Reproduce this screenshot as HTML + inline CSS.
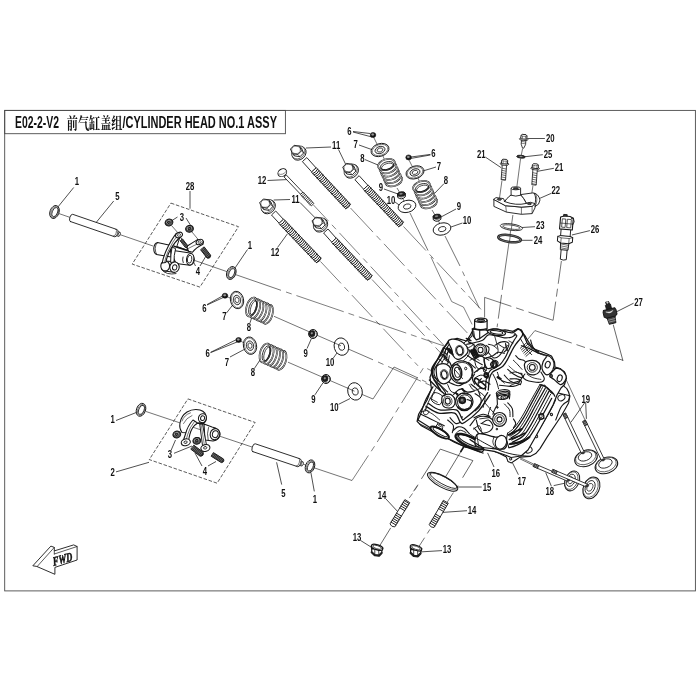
<!DOCTYPE html>
<html><head><meta charset="utf-8"><title>E02-2-V2 CYLINDER HEAD NO.1 ASSY</title>
<style>
html,body{margin:0;padding:0;background:#fff;}
body{width:700px;height:700px;overflow:hidden;font-family:"Liberation Sans","Noto Sans CJK SC",sans-serif;}
svg{display:block;will-change:transform;}
.lb{font-family:"Liberation Sans",sans-serif;font-weight:700;fill:#111;}
.ti{font-family:"Liberation Sans","Noto Sans CJK SC",sans-serif;fill:#111;}
.tc{font-family:"Liberation Serif","Noto Serif CJK SC",serif;fill:#111;}
</style></head><body>
<svg width="700" height="700" viewBox="0 0 700 700">
<rect width="700" height="700" fill="#fff"/>
<text class="ti" x="15" y="128.3" font-size="16.8" font-weight="700" textLength="44" lengthAdjust="spacingAndGlyphs">E02-2-V2</text>
<text class="tc" x="66.8" y="128.6" font-size="16" font-weight="700" textLength="55.6" lengthAdjust="spacingAndGlyphs">前气缸盖组</text>
<text class="ti" x="122.4" y="128.3" font-size="16.8" font-weight="700" textLength="154.6" lengthAdjust="spacingAndGlyphs">/CYLINDER HEAD NO.1 ASSY</text>
<rect x="4.7" y="110.4" width="690.7" height="480.5" fill="none" stroke="#4a4a4a" stroke-width="0.9"/>
<rect x="4.7" y="110.4" width="280.7" height="23.3" fill="none" stroke="#4a4a4a" stroke-width="0.9"/>
<line x1="73.7" y1="187.5" x2="57.5" y2="207.5" stroke="#161616" stroke-width="0.75"/>
<line x1="113.7" y1="201.0" x2="93.7" y2="225.5" stroke="#161616" stroke-width="0.75"/>
<line x1="190.0" y1="191.0" x2="190.0" y2="208.7" stroke="#161616" stroke-width="0.75"/>
<line x1="177.5" y1="217.0" x2="172.0" y2="220.5" stroke="#161616" stroke-width="0.75"/>
<line x1="186.0" y1="218.0" x2="191.0" y2="226.0" stroke="#161616" stroke-width="0.75"/>
<line x1="195.5" y1="266.0" x2="190.0" y2="255.0" stroke="#161616" stroke-width="0.75"/>
<line x1="200.0" y1="266.0" x2="206.0" y2="256.0" stroke="#161616" stroke-width="0.75"/>
<line x1="247.5" y1="249.5" x2="235.0" y2="268.0" stroke="#161616" stroke-width="0.75"/>
<line x1="331.0" y1="147.0" x2="306.0" y2="148.0" stroke="#161616" stroke-width="0.75"/>
<line x1="338.5" y1="149.5" x2="346.0" y2="165.0" stroke="#161616" stroke-width="0.75"/>
<line x1="267.5" y1="180.5" x2="288.7" y2="179.5" stroke="#161616" stroke-width="0.75"/>
<line x1="290.0" y1="199.5" x2="273.7" y2="200.0" stroke="#161616" stroke-width="0.75"/>
<line x1="300.0" y1="202.5" x2="316.0" y2="218.7" stroke="#161616" stroke-width="0.75"/>
<line x1="277.5" y1="247.5" x2="287.5" y2="233.7" stroke="#161616" stroke-width="0.75"/>
<line x1="353.0" y1="131.5" x2="370.0" y2="133.5" stroke="#161616" stroke-width="0.75"/>
<line x1="353.0" y1="132.0" x2="372.0" y2="137.0" stroke="#161616" stroke-width="0.75"/>
<line x1="359.0" y1="145.0" x2="373.0" y2="150.0" stroke="#161616" stroke-width="0.75"/>
<line x1="365.0" y1="159.6" x2="378.0" y2="165.0" stroke="#161616" stroke-width="0.75"/>
<line x1="384.0" y1="189.0" x2="398.0" y2="194.0" stroke="#161616" stroke-width="0.75"/>
<line x1="395.0" y1="202.0" x2="400.0" y2="205.6" stroke="#161616" stroke-width="0.75"/>
<line x1="430.4" y1="154.4" x2="411.0" y2="157.0" stroke="#161616" stroke-width="0.75"/>
<line x1="430.4" y1="155.0" x2="411.0" y2="158.4" stroke="#161616" stroke-width="0.75"/>
<line x1="436.0" y1="167.0" x2="423.0" y2="171.0" stroke="#161616" stroke-width="0.75"/>
<line x1="444.0" y1="183.6" x2="434.0" y2="194.0" stroke="#161616" stroke-width="0.75"/>
<line x1="456.0" y1="209.0" x2="441.0" y2="217.0" stroke="#161616" stroke-width="0.75"/>
<line x1="462.4" y1="223.0" x2="451.0" y2="227.0" stroke="#161616" stroke-width="0.75"/>
<line x1="544.9" y1="138.5" x2="528.0" y2="138.5" stroke="#161616" stroke-width="0.75"/>
<line x1="542.8" y1="154.7" x2="524.3" y2="156.8" stroke="#161616" stroke-width="0.75"/>
<line x1="485.7" y1="157.3" x2="501.0" y2="167.6" stroke="#161616" stroke-width="0.75"/>
<line x1="553.9" y1="168.3" x2="537.0" y2="171.4" stroke="#161616" stroke-width="0.75"/>
<line x1="551.3" y1="193.3" x2="539.7" y2="198.4" stroke="#161616" stroke-width="0.75"/>
<line x1="535.0" y1="226.7" x2="522.0" y2="227.5" stroke="#161616" stroke-width="0.75"/>
<line x1="532.5" y1="240.3" x2="521.7" y2="240.3" stroke="#161616" stroke-width="0.75"/>
<line x1="589.9" y1="230.6" x2="571.9" y2="235.0" stroke="#161616" stroke-width="0.75"/>
<line x1="633.6" y1="303.2" x2="616.5" y2="311.8" stroke="#161616" stroke-width="0.75"/>
<line x1="207.0" y1="304.6" x2="223.0" y2="295.7" stroke="#161616" stroke-width="0.75"/>
<line x1="207.0" y1="305.0" x2="224.3" y2="297.0" stroke="#161616" stroke-width="0.75"/>
<line x1="226.6" y1="312.9" x2="234.3" y2="302.9" stroke="#161616" stroke-width="0.75"/>
<line x1="250.0" y1="322.9" x2="252.3" y2="315.7" stroke="#161616" stroke-width="0.75"/>
<line x1="307.0" y1="348.6" x2="311.4" y2="338.6" stroke="#161616" stroke-width="0.75"/>
<line x1="332.9" y1="358.6" x2="337.0" y2="352.9" stroke="#161616" stroke-width="0.75"/>
<line x1="210.6" y1="352.3" x2="235.7" y2="340.0" stroke="#161616" stroke-width="0.75"/>
<line x1="210.6" y1="352.6" x2="237.0" y2="342.0" stroke="#161616" stroke-width="0.75"/>
<line x1="230.0" y1="357.0" x2="244.3" y2="349.4" stroke="#161616" stroke-width="0.75"/>
<line x1="254.3" y1="368.6" x2="260.0" y2="360.0" stroke="#161616" stroke-width="0.75"/>
<line x1="314.9" y1="394.9" x2="322.9" y2="382.9" stroke="#161616" stroke-width="0.75"/>
<line x1="338.6" y1="404.3" x2="350.0" y2="398.6" stroke="#161616" stroke-width="0.75"/>
<line x1="116.0" y1="420.5" x2="136.0" y2="412.6" stroke="#161616" stroke-width="0.75"/>
<line x1="116.0" y1="471.9" x2="149.0" y2="462.3" stroke="#161616" stroke-width="0.75"/>
<line x1="171.0" y1="450.5" x2="175.5" y2="440.0" stroke="#161616" stroke-width="0.75"/>
<line x1="174.0" y1="453.3" x2="192.0" y2="446.0" stroke="#161616" stroke-width="0.75"/>
<line x1="202.0" y1="466.0" x2="195.0" y2="453.0" stroke="#161616" stroke-width="0.75"/>
<line x1="208.0" y1="466.0" x2="216.0" y2="461.5" stroke="#161616" stroke-width="0.75"/>
<line x1="281.7" y1="484.6" x2="276.6" y2="462.3" stroke="#161616" stroke-width="0.75"/>
<line x1="314.3" y1="491.4" x2="310.9" y2="472.6" stroke="#161616" stroke-width="0.75"/>
<line x1="360.3" y1="540.3" x2="372.6" y2="548.0" stroke="#161616" stroke-width="0.75"/>
<line x1="442.0" y1="550.6" x2="420.7" y2="551.9" stroke="#161616" stroke-width="0.75"/>
<line x1="386.0" y1="499.0" x2="397.6" y2="511.5" stroke="#161616" stroke-width="0.75"/>
<line x1="467.0" y1="510.7" x2="441.3" y2="512.5" stroke="#161616" stroke-width="0.75"/>
<line x1="481.7" y1="487.0" x2="456.0" y2="487.0" stroke="#161616" stroke-width="0.75"/>
<line x1="494.0" y1="467.0" x2="487.6" y2="452.9" stroke="#161616" stroke-width="0.75"/>
<line x1="518.4" y1="474.7" x2="512.0" y2="461.9" stroke="#161616" stroke-width="0.75"/>
<line x1="551.4" y1="486.3" x2="545.7" y2="472.6" stroke="#161616" stroke-width="0.75"/>
<line x1="553.7" y1="485.6" x2="566.3" y2="482.9" stroke="#161616" stroke-width="0.75"/>
<line x1="584.6" y1="402.9" x2="570.9" y2="422.3" stroke="#161616" stroke-width="0.75"/>
<line x1="585.7" y1="402.9" x2="586.4" y2="418.9" stroke="#161616" stroke-width="0.75"/>
<line x1="350.5" y1="208.0" x2="373.0" y2="232.1" stroke="#161616" stroke-width="0.55"/>
<line x1="376.5" y1="235.8" x2="471.0" y2="336.9" stroke="#161616" stroke-width="0.55" stroke-dasharray="6 5 30 5"/>
<line x1="403.5" y1="226.5" x2="426.0" y2="250.6" stroke="#161616" stroke-width="0.55"/>
<line x1="429.5" y1="254.3" x2="481.0" y2="309.4" stroke="#161616" stroke-width="0.55" stroke-dasharray="6 5 30 5"/>
<line x1="320.5" y1="261.5" x2="341.0" y2="283.4" stroke="#161616" stroke-width="0.55"/>
<line x1="344.4" y1="287.1" x2="418.0" y2="365.8" stroke="#161616" stroke-width="0.55" stroke-dasharray="6 5 30 5"/>
<line x1="372.0" y1="279.5" x2="393.2" y2="302.1" stroke="#161616" stroke-width="0.55"/>
<line x1="396.6" y1="305.8" x2="441.0" y2="353.3" stroke="#161616" stroke-width="0.55" stroke-dasharray="6 5 30 5"/>
<line x1="313.5" y1="205.0" x2="328.5" y2="221.1" stroke="#161616" stroke-width="0.55"/>
<line x1="331.9" y1="224.8" x2="444.0" y2="345.5" stroke="#161616" stroke-width="0.55" stroke-dasharray="6 5 30 5"/>
<polygon points="302.4,161.6 311.7,171.9 316.1,167.9 306.8,157.6" fill="#fff" stroke="#161616" stroke-width="0.90" stroke-linejoin="round"/>
<polygon points="311.5,172.1 345.7,208.7 350.4,204.3 316.3,167.7" fill="#fff" stroke="#161616" stroke-width="0.90" stroke-linejoin="round"/>
<path d="M312.9,173.6 Q316.1,172.3 317.6,169.2 M314.2,175.0 Q317.5,173.8 319.0,170.6 M315.6,176.5 Q318.9,175.3 320.4,172.1 M317.0,178.0 Q320.2,176.7 321.7,173.6 M318.3,179.4 Q321.6,178.2 323.1,175.0 M319.7,180.9 Q322.9,179.7 324.4,176.5 M321.0,182.4 Q324.3,181.1 325.8,178.0 M322.4,183.9 Q325.7,182.6 327.2,179.4 M323.8,185.3 Q327.0,184.1 328.5,180.9 M325.1,186.8 Q328.4,185.5 329.9,182.4 M326.5,188.3 Q329.8,187.0 331.3,183.8 M327.8,189.7 Q331.1,188.5 332.6,185.3 M329.2,191.2 Q332.5,189.9 334.0,186.8 M330.6,192.7 Q333.8,191.4 335.3,188.2 M331.9,194.1 Q335.2,192.9 336.7,189.7 M333.3,195.6 Q336.6,194.3 338.1,191.2 M334.6,197.1 Q337.9,195.8 339.4,192.6 M336.0,198.5 Q339.3,197.3 340.8,194.1 M337.4,200.0 Q340.6,198.7 342.1,195.6 M338.7,201.5 Q342.0,200.2 343.5,197.0 M340.1,202.9 Q343.4,201.7 344.9,198.5 M341.5,204.4 Q344.7,203.1 346.2,200.0 M342.8,205.9 Q346.1,204.6 347.6,201.4 M344.2,207.3 Q347.4,206.1 348.9,202.9 " fill="none" stroke="#161616" stroke-width="1.00" stroke-linejoin="round" stroke-linecap="round"/>
<path d="M345.7,208.7 Q349.4,207.9 350.4,204.3" fill="none" stroke="#161616" stroke-width="0.90" stroke-linejoin="round" stroke-linecap="round"/>
<ellipse cx="299.1" cy="153.3" rx="7.6" ry="6.2" fill="#fff" stroke="#161616" stroke-width="0.90" transform="rotate(137.16848976464593 299.1 153.3)"/>
<ellipse cx="298.3" cy="152.4" rx="7.2" ry="5.9" fill="#fff" stroke="#161616" stroke-width="0.60" transform="rotate(137.16848976464593 298.3 152.4)"/>
<polygon points="303.6,153.0 300.0,156.7 294.4,155.9 292.5,151.2 296.1,147.5 301.6,148.3" fill="#fff" stroke="#161616" stroke-width="0.90" stroke-linejoin="round"/>
<line x1="301.5" y1="150.8" x2="303.6" y2="153.0" stroke="#161616" stroke-width="0.6"/>
<line x1="297.9" y1="154.5" x2="300.0" y2="156.7" stroke="#161616" stroke-width="0.6"/>
<line x1="292.4" y1="153.7" x2="294.4" y2="155.9" stroke="#161616" stroke-width="0.6"/>
<line x1="290.5" y1="149.0" x2="292.5" y2="151.2" stroke="#161616" stroke-width="0.6"/>
<line x1="294.1" y1="145.3" x2="296.1" y2="147.5" stroke="#161616" stroke-width="0.6"/>
<line x1="299.6" y1="146.1" x2="301.6" y2="148.3" stroke="#161616" stroke-width="0.6"/>
<polygon points="301.5,150.8 297.9,154.5 292.4,153.7 290.5,149.0 294.1,145.3 299.6,146.1" fill="#fff" stroke="#161616" stroke-width="0.90" stroke-linejoin="round"/>
<ellipse cx="296.0" cy="149.9" rx="4.3" ry="3.7" fill="none" stroke="#161616" stroke-width="0.50"/>
<polygon points="354.9,179.7 363.7,189.3 367.9,185.3 359.1,175.7" fill="#fff" stroke="#161616" stroke-width="0.90" stroke-linejoin="round"/>
<polygon points="363.4,189.5 398.7,226.7 403.4,222.2 368.2,185.1" fill="#fff" stroke="#161616" stroke-width="0.90" stroke-linejoin="round"/>
<path d="M364.8,191.0 Q368.0,189.7 369.5,186.5 M366.1,192.4 Q369.4,191.1 370.9,187.9 M367.5,193.8 Q370.7,192.5 372.2,189.4 M368.8,195.3 Q372.1,194.0 373.6,190.8 M370.2,196.7 Q373.4,195.4 374.9,192.2 M371.5,198.1 Q374.8,196.9 376.3,193.7 M372.9,199.6 Q376.1,198.3 377.6,195.1 M374.2,201.0 Q377.5,199.7 379.0,196.5 M375.6,202.4 Q378.8,201.2 380.3,198.0 M376.9,203.9 Q380.2,202.6 381.7,199.4 M378.3,205.3 Q381.6,204.0 383.0,200.8 M379.6,206.7 Q382.9,205.5 384.4,202.3 M381.0,208.2 Q384.3,206.9 385.7,203.7 M382.3,209.6 Q385.6,208.3 387.1,205.2 M383.7,211.0 Q387.0,209.8 388.4,206.6 M385.0,212.5 Q388.3,211.2 389.8,208.0 M386.4,213.9 Q389.7,212.6 391.1,209.5 M387.7,215.3 Q391.0,214.1 392.5,210.9 M389.1,216.8 Q392.4,215.5 393.8,212.3 M390.5,218.2 Q393.7,216.9 395.2,213.8 M391.8,219.6 Q395.1,218.4 396.5,215.2 M393.2,221.1 Q396.4,219.8 397.9,216.6 M394.5,222.5 Q397.8,221.2 399.2,218.1 M395.9,224.0 Q399.1,222.7 400.6,219.5 M397.2,225.4 Q400.5,224.1 401.9,220.9 " fill="none" stroke="#161616" stroke-width="1.00" stroke-linejoin="round" stroke-linecap="round"/>
<path d="M398.7,226.7 Q402.4,225.9 403.4,222.2" fill="none" stroke="#161616" stroke-width="0.90" stroke-linejoin="round" stroke-linecap="round"/>
<ellipse cx="351.5" cy="171.3" rx="7.6" ry="6.2" fill="#fff" stroke="#161616" stroke-width="0.90" transform="rotate(136.71545859630356 351.5 171.3)"/>
<ellipse cx="350.6" cy="170.5" rx="7.2" ry="5.9" fill="#fff" stroke="#161616" stroke-width="0.60" transform="rotate(136.71545859630356 350.6 170.5)"/>
<polygon points="355.9,171.0 352.3,174.8 346.8,174.0 344.8,169.3 348.4,165.6 354.0,166.4" fill="#fff" stroke="#161616" stroke-width="0.90" stroke-linejoin="round"/>
<line x1="353.8" y1="168.9" x2="355.9" y2="171.0" stroke="#161616" stroke-width="0.6"/>
<line x1="350.2" y1="172.6" x2="352.3" y2="174.8" stroke="#161616" stroke-width="0.6"/>
<line x1="344.7" y1="171.8" x2="346.8" y2="174.0" stroke="#161616" stroke-width="0.6"/>
<line x1="342.8" y1="167.1" x2="344.8" y2="169.3" stroke="#161616" stroke-width="0.6"/>
<line x1="346.4" y1="163.4" x2="348.4" y2="165.6" stroke="#161616" stroke-width="0.6"/>
<line x1="351.9" y1="164.2" x2="354.0" y2="166.4" stroke="#161616" stroke-width="0.6"/>
<polygon points="353.8,168.9 350.2,172.6 344.7,171.8 342.8,167.1 346.4,163.4 351.9,164.2" fill="#fff" stroke="#161616" stroke-width="0.90" stroke-linejoin="round"/>
<ellipse cx="348.3" cy="168.0" rx="4.3" ry="3.7" fill="none" stroke="#161616" stroke-width="0.50"/>
<polygon points="271.5,215.0 279.2,223.3 283.4,219.3 275.7,211.0" fill="#fff" stroke="#161616" stroke-width="0.90" stroke-linejoin="round"/>
<polygon points="278.9,223.5 316.4,262.7 321.1,258.2 283.7,219.1" fill="#fff" stroke="#161616" stroke-width="0.90" stroke-linejoin="round"/>
<path d="M280.3,225.0 Q283.6,223.7 285.0,220.5 M281.7,226.4 Q285.0,225.2 286.4,222.0 M283.1,227.9 Q286.3,226.6 287.8,223.4 M284.5,229.4 Q287.7,228.1 289.2,224.9 M285.9,230.8 Q289.1,229.5 290.6,226.3 M287.2,232.3 Q290.5,231.0 292.0,227.8 M288.6,233.7 Q291.9,232.4 293.3,229.2 M290.0,235.2 Q293.3,233.9 294.7,230.7 M291.4,236.6 Q294.6,235.3 296.1,232.1 M292.8,238.1 Q296.0,236.8 297.5,233.6 M294.2,239.5 Q297.4,238.2 298.9,235.1 M295.5,241.0 Q298.8,239.7 300.3,236.5 M296.9,242.4 Q300.2,241.1 301.6,238.0 M298.3,243.9 Q301.6,242.6 303.0,239.4 M299.7,245.4 Q302.9,244.1 304.4,240.9 M301.1,246.8 Q304.3,245.5 305.8,242.3 M302.5,248.3 Q305.7,247.0 307.2,243.8 M303.8,249.7 Q307.1,248.4 308.6,245.2 M305.2,251.2 Q308.5,249.9 309.9,246.7 M306.6,252.6 Q309.9,251.3 311.3,248.1 M308.0,254.1 Q311.2,252.8 312.7,249.6 M309.4,255.5 Q312.6,254.2 314.1,251.1 M310.8,257.0 Q314.0,255.7 315.5,252.5 M312.1,258.4 Q315.4,257.1 316.9,254.0 M313.5,259.9 Q316.8,258.6 318.2,255.4 M314.9,261.4 Q318.2,260.1 319.6,256.9 " fill="none" stroke="#161616" stroke-width="1.00" stroke-linejoin="round" stroke-linecap="round"/>
<path d="M316.4,262.7 Q320.1,261.9 321.1,258.2" fill="none" stroke="#161616" stroke-width="0.90" stroke-linejoin="round" stroke-linecap="round"/>
<ellipse cx="268.4" cy="206.9" rx="7.6" ry="6.2" fill="#fff" stroke="#161616" stroke-width="0.90" transform="rotate(136.43487819292193 268.4 206.9)"/>
<ellipse cx="267.5" cy="206.1" rx="7.2" ry="5.9" fill="#fff" stroke="#161616" stroke-width="0.60" transform="rotate(136.43487819292193 267.5 206.1)"/>
<polygon points="272.8,206.6 269.2,210.4 263.7,209.5 261.8,204.9 265.4,201.1 270.9,202.0" fill="#fff" stroke="#161616" stroke-width="0.90" stroke-linejoin="round"/>
<line x1="270.7" y1="204.5" x2="272.8" y2="206.6" stroke="#161616" stroke-width="0.6"/>
<line x1="267.1" y1="208.2" x2="269.2" y2="210.4" stroke="#161616" stroke-width="0.6"/>
<line x1="261.6" y1="207.4" x2="263.7" y2="209.5" stroke="#161616" stroke-width="0.6"/>
<line x1="259.7" y1="202.7" x2="261.8" y2="204.9" stroke="#161616" stroke-width="0.6"/>
<line x1="263.3" y1="199.0" x2="265.4" y2="201.1" stroke="#161616" stroke-width="0.6"/>
<line x1="268.8" y1="199.8" x2="270.9" y2="202.0" stroke="#161616" stroke-width="0.6"/>
<polygon points="270.7,204.5 267.1,208.2 261.6,207.4 259.7,202.7 263.3,199.0 268.8,199.8" fill="#fff" stroke="#161616" stroke-width="0.90" stroke-linejoin="round"/>
<ellipse cx="265.2" cy="203.6" rx="4.3" ry="3.7" fill="none" stroke="#161616" stroke-width="0.50"/>
<polygon points="323.6,233.0 331.8,242.2 336.2,238.2 328.0,229.0" fill="#fff" stroke="#161616" stroke-width="0.90" stroke-linejoin="round"/>
<polygon points="331.6,242.4 367.4,280.1 372.1,275.6 336.4,238.0" fill="#fff" stroke="#161616" stroke-width="0.90" stroke-linejoin="round"/>
<path d="M333.0,243.9 Q336.3,242.6 337.7,239.4 M334.4,245.3 Q337.6,244.1 339.1,240.9 M335.7,246.8 Q339.0,245.5 340.5,242.3 M337.1,248.3 Q340.4,247.0 341.8,243.8 M338.5,249.7 Q341.7,248.4 343.2,245.3 M339.8,251.2 Q343.1,249.9 344.6,246.7 M341.2,252.6 Q344.5,251.3 345.9,248.2 M342.6,254.1 Q345.8,252.8 347.3,249.6 M343.9,255.5 Q347.2,254.3 348.7,251.1 M345.3,257.0 Q348.6,255.7 350.0,252.5 M346.7,258.5 Q349.9,257.2 351.4,254.0 M348.0,259.9 Q351.3,258.6 352.8,255.5 M349.4,261.4 Q352.7,260.1 354.1,256.9 M350.8,262.8 Q354.0,261.5 355.5,258.4 M352.1,264.3 Q355.4,263.0 356.9,259.8 M353.5,265.7 Q356.7,264.5 358.2,261.3 M354.9,267.2 Q358.1,265.9 359.6,262.7 M356.2,268.7 Q359.5,267.4 361.0,264.2 M357.6,270.1 Q360.8,268.8 362.3,265.7 M359.0,271.6 Q362.2,270.3 363.7,267.1 M360.3,273.0 Q363.6,271.7 365.1,268.6 M361.7,274.5 Q364.9,273.2 366.4,270.0 M363.1,275.9 Q366.3,274.7 367.8,271.5 M364.4,277.4 Q367.7,276.1 369.2,272.9 M365.8,278.8 Q369.0,277.6 370.5,274.4 " fill="none" stroke="#161616" stroke-width="1.00" stroke-linejoin="round" stroke-linecap="round"/>
<path d="M367.4,280.1 Q371.1,279.3 372.1,275.6" fill="none" stroke="#161616" stroke-width="0.90" stroke-linejoin="round" stroke-linecap="round"/>
<ellipse cx="320.7" cy="225.2" rx="7.6" ry="6.2" fill="#fff" stroke="#161616" stroke-width="0.90" transform="rotate(136.84151138020047 320.7 225.2)"/>
<ellipse cx="319.9" cy="224.3" rx="7.2" ry="5.9" fill="#fff" stroke="#161616" stroke-width="0.60" transform="rotate(136.84151138020047 319.9 224.3)"/>
<polygon points="325.2,224.8 321.6,228.6 316.1,227.8 314.1,223.1 317.7,219.4 323.3,220.2" fill="#fff" stroke="#161616" stroke-width="0.90" stroke-linejoin="round"/>
<line x1="323.1" y1="222.7" x2="325.2" y2="224.8" stroke="#161616" stroke-width="0.6"/>
<line x1="319.5" y1="226.4" x2="321.6" y2="228.6" stroke="#161616" stroke-width="0.6"/>
<line x1="314.0" y1="225.6" x2="316.1" y2="227.8" stroke="#161616" stroke-width="0.6"/>
<line x1="312.1" y1="220.9" x2="314.1" y2="223.1" stroke="#161616" stroke-width="0.6"/>
<line x1="315.7" y1="217.2" x2="317.7" y2="219.4" stroke="#161616" stroke-width="0.6"/>
<line x1="321.2" y1="218.0" x2="323.3" y2="220.2" stroke="#161616" stroke-width="0.6"/>
<polygon points="323.1,222.7 319.5,226.4 314.0,225.6 312.1,220.9 315.7,217.2 321.2,218.0" fill="#fff" stroke="#161616" stroke-width="0.90" stroke-linejoin="round"/>
<ellipse cx="317.6" cy="221.8" rx="4.3" ry="3.7" fill="none" stroke="#161616" stroke-width="0.50"/>
<polygon points="284.1,177.0 300.6,194.3 302.8,192.3 286.3,175.0" fill="#fff" stroke="#161616" stroke-width="0.85" stroke-linejoin="round"/>
<polygon points="300.4,194.5 311.3,205.9 313.9,203.5 303.0,192.1" fill="#fff" stroke="#161616" stroke-width="0.85" stroke-linejoin="round"/>
<path d="M301.6,195.8 L304.2,193.4 M302.8,197.1 L305.4,194.6 M304.0,198.4 L306.6,195.9 M305.2,199.7 L307.8,197.2 M306.4,200.9 L309.0,198.5 M307.6,202.2 L310.2,199.8 M308.8,203.5 L311.4,201.0 M310.0,204.8 L312.6,202.3 " fill="none" stroke="#161616" stroke-width="0.75" stroke-linejoin="round" stroke-linecap="round"/>
<ellipse cx="282.3" cy="172.7" rx="4.6" ry="3.7" fill="#fff" stroke="#161616" stroke-width="0.90" transform="rotate(-30 282.3 172.7)"/>
<path d="M278.8,173.9 Q282.3,175.9 285.9,171.7" fill="none" stroke="#161616" stroke-width="0.50" stroke-linejoin="round" stroke-linecap="round"/>
<line x1="59.0" y1="213.6" x2="153.0" y2="246.0" stroke="#161616" stroke-width="0.6"/>
<line x1="194.5" y1="260.4" x2="281.0" y2="290.3" stroke="#161616" stroke-width="0.6"/>
<line x1="286.0" y1="292.0" x2="444.0" y2="346.0" stroke="#161616" stroke-width="0.55" stroke-dasharray="6 5 50 5"/>
<ellipse cx="54.5" cy="212.0" rx="4.5" ry="6.7" fill="#fff" stroke="#161616" stroke-width="0.90" transform="rotate(20 54.5 212.0)"/>
<ellipse cx="54.7" cy="212.1" rx="3.5" ry="5.7" fill="none" stroke="#161616" stroke-width="0.50" transform="rotate(20 54.7 212.1)"/>
<ellipse cx="54.9" cy="212.1" rx="2.6" ry="4.8" fill="#fff" stroke="#161616" stroke-width="0.80" transform="rotate(20 54.9 212.1)"/>
<ellipse cx="231.3" cy="273.0" rx="4.5" ry="6.7" fill="#fff" stroke="#161616" stroke-width="0.90" transform="rotate(20 231.3 273.0)"/>
<ellipse cx="231.5" cy="273.1" rx="3.5" ry="5.7" fill="none" stroke="#161616" stroke-width="0.50" transform="rotate(20 231.5 273.1)"/>
<ellipse cx="231.7" cy="273.1" rx="2.6" ry="4.8" fill="#fff" stroke="#161616" stroke-width="0.80" transform="rotate(20 231.7 273.1)"/>
<line x1="146.0" y1="411.5" x2="252.0" y2="447.0" stroke="#161616" stroke-width="0.6"/>
<line x1="303.0" y1="464.1" x2="352.0" y2="480.5" stroke="#161616" stroke-width="0.6"/>
<polyline points="352.0,480.5 376.0,444.0 424.0,367.0 434.0,372.0" fill="none" stroke="#161616" stroke-width="0.55" stroke-dasharray="30 5 6 5" stroke-linejoin="round"/>
<ellipse cx="141.0" cy="409.8" rx="4.5" ry="6.7" fill="#fff" stroke="#161616" stroke-width="0.90" transform="rotate(20 141.0 409.8)"/>
<ellipse cx="141.2" cy="409.9" rx="3.5" ry="5.7" fill="none" stroke="#161616" stroke-width="0.50" transform="rotate(20 141.2 409.9)"/>
<ellipse cx="141.4" cy="409.9" rx="2.6" ry="4.8" fill="#fff" stroke="#161616" stroke-width="0.80" transform="rotate(20 141.4 409.9)"/>
<ellipse cx="310.0" cy="466.4" rx="4.5" ry="6.7" fill="#fff" stroke="#161616" stroke-width="0.90" transform="rotate(20 310.0 466.4)"/>
<ellipse cx="310.2" cy="466.5" rx="3.5" ry="5.7" fill="none" stroke="#161616" stroke-width="0.50" transform="rotate(20 310.2 466.5)"/>
<ellipse cx="310.4" cy="466.5" rx="2.6" ry="4.8" fill="#fff" stroke="#161616" stroke-width="0.80" transform="rotate(20 310.4 466.5)"/>
<polygon points="115.3,235.3 118.5,236.4 119.9,232.2 116.7,231.1" fill="#fff" stroke="#161616" stroke-width="0.70" stroke-linejoin="round"/>
<ellipse cx="119.2" cy="234.3" rx="1.0" ry="2.2" fill="#fff" stroke="#161616" stroke-width="0.70" transform="rotate(18.974006111534806 119.2 234.3)"/>
<path d="M70.3,221.5 L114.8,236.8 A1.8,3.8 19.0 0 0 117.2,229.6 L72.7,214.3 A1.8,3.8 19.0 0 0 70.3,221.5Z" fill="#fff" stroke="#161616" stroke-width="0.90" stroke-linejoin="round" stroke-linecap="round"/>
<path d="M113.3,236.3 A1.8,3.8 19.0 0 0 115.7,229.1" fill="none" stroke="#161616" stroke-width="0.60" stroke-linejoin="round" stroke-linecap="round"/>
<polygon points="298.3,464.9 301.5,466.0 302.9,461.8 299.7,460.7" fill="#fff" stroke="#161616" stroke-width="0.70" stroke-linejoin="round"/>
<ellipse cx="302.2" cy="463.9" rx="1.0" ry="2.2" fill="#fff" stroke="#161616" stroke-width="0.70" transform="rotate(18.54946388598796 302.2 463.9)"/>
<path d="M252.7,451.6 L297.7,466.7 A1.8,4.1 18.5 0 0 300.3,458.9 L255.3,443.8 A1.8,4.1 18.5 0 0 252.7,451.6Z" fill="#fff" stroke="#161616" stroke-width="0.90" stroke-linejoin="round" stroke-linecap="round"/>
<path d="M296.2,466.2 A1.8,4.1 18.5 0 0 298.8,458.4" fill="none" stroke="#161616" stroke-width="0.60" stroke-linejoin="round" stroke-linecap="round"/>
<line x1="373.5" y1="137.0" x2="377.0" y2="144.0" stroke="#161616" stroke-width="0.6"/>
<line x1="383.0" y1="156.0" x2="385.0" y2="161.0" stroke="#161616" stroke-width="0.6"/>
<line x1="397.0" y1="188.0" x2="400.0" y2="193.0" stroke="#161616" stroke-width="0.6"/>
<line x1="402.5" y1="198.0" x2="405.0" y2="203.0" stroke="#161616" stroke-width="0.6"/>
<ellipse cx="373.0" cy="135.0" rx="2.8" ry="2.5" fill="#111" stroke="#161616" stroke-width="0.60"/>
<ellipse cx="372.7" cy="134.5" rx="1.3" ry="1.0" fill="#999" stroke="#999" stroke-width="0.30"/>
<ellipse cx="380.0" cy="150.0" rx="9.2" ry="6.3" fill="#fff" stroke="#161616" stroke-width="0.90" transform="rotate(-18 380.0 150.0)"/>
<ellipse cx="380.0" cy="150.0" rx="8.0" ry="5.3" fill="none" stroke="#161616" stroke-width="0.50" transform="rotate(-18 380.0 150.0)"/>
<ellipse cx="380.0" cy="150.0" rx="5.1" ry="3.5" fill="#e8e8e8" stroke="#161616" stroke-width="0.80" transform="rotate(-18 380.0 150.0)"/>
<ellipse cx="380.0" cy="150.0" rx="2.8" ry="1.9" fill="#fff" stroke="#161616" stroke-width="0.70" transform="rotate(-18 380.0 150.0)"/>
<ellipse cx="393.8" cy="180.8" rx="8.7" ry="5.2" fill="#fff" stroke="#161616" stroke-width="1.70" transform="rotate(-18 393.8 180.8)"/>
<ellipse cx="393.8" cy="180.8" rx="8.7" ry="5.2" fill="none" stroke="#fff" stroke-width="0.60" transform="rotate(-18 393.8 180.8)"/>
<ellipse cx="392.3" cy="177.5" rx="8.7" ry="5.2" fill="#fff" stroke="#161616" stroke-width="1.70" transform="rotate(-18 392.3 177.5)"/>
<ellipse cx="392.3" cy="177.5" rx="8.7" ry="5.2" fill="none" stroke="#fff" stroke-width="0.60" transform="rotate(-18 392.3 177.5)"/>
<ellipse cx="390.9" cy="174.3" rx="8.7" ry="5.2" fill="#fff" stroke="#161616" stroke-width="1.70" transform="rotate(-18 390.9 174.3)"/>
<ellipse cx="390.9" cy="174.3" rx="8.7" ry="5.2" fill="none" stroke="#fff" stroke-width="0.60" transform="rotate(-18 390.9 174.3)"/>
<ellipse cx="389.4" cy="171.0" rx="8.7" ry="5.2" fill="#fff" stroke="#161616" stroke-width="1.70" transform="rotate(-18 389.4 171.0)"/>
<ellipse cx="389.4" cy="171.0" rx="8.7" ry="5.2" fill="none" stroke="#fff" stroke-width="0.60" transform="rotate(-18 389.4 171.0)"/>
<ellipse cx="388.0" cy="167.8" rx="8.7" ry="5.2" fill="#fff" stroke="#161616" stroke-width="1.70" transform="rotate(-18 388.0 167.8)"/>
<ellipse cx="388.0" cy="167.8" rx="8.7" ry="5.2" fill="none" stroke="#fff" stroke-width="0.60" transform="rotate(-18 388.0 167.8)"/>
<ellipse cx="386.5" cy="164.5" rx="8.7" ry="5.2" fill="#fff" stroke="#161616" stroke-width="1.70" transform="rotate(-18 386.5 164.5)"/>
<ellipse cx="386.5" cy="164.5" rx="8.7" ry="5.2" fill="none" stroke="#fff" stroke-width="0.60" transform="rotate(-18 386.5 164.5)"/>
<ellipse cx="387.0" cy="165.6" rx="6.8" ry="3.7" fill="none" stroke="#161616" stroke-width="0.80" transform="rotate(-18 387.0 165.6)"/>
<ellipse cx="387.5" cy="166.7" rx="6.1" ry="3.2" fill="none" stroke="#161616" stroke-width="0.70" transform="rotate(-18 387.5 166.7)"/>
<path d="M397.5,194.2 L397.7,197.4 Q401.4,200.6 405.3,196.8 L405.3,193.8Z" fill="#fff" stroke="#161616" stroke-width="1.00" stroke-linejoin="round" stroke-linecap="round"/>
<path d="M397.6,195.8 Q401.4,199.0 405.3,195.3" fill="none" stroke="#161616" stroke-width="0.60" stroke-linejoin="round" stroke-linecap="round"/>
<ellipse cx="401.4" cy="194.0" rx="3.9" ry="2.2" fill="#222" stroke="#161616" stroke-width="0.90" transform="rotate(-8 401.4 194.0)"/>
<ellipse cx="401.0" cy="193.8" rx="1.6" ry="0.7" fill="#888" stroke="#888" stroke-width="0.30" transform="rotate(-8 401.0 193.8)"/>
<ellipse cx="407.0" cy="206.4" rx="9.0" ry="6.0" fill="#fff" stroke="#161616" stroke-width="0.90" transform="rotate(-14 407.0 206.4)"/>
<ellipse cx="407.2" cy="206.5" rx="3.8" ry="2.5" fill="#fff" stroke="#161616" stroke-width="0.80" transform="rotate(-14 407.2 206.5)"/>
<polyline points="410.0,213.0 428.0,250.5" fill="none" stroke="#161616" stroke-width="0.60" stroke-linejoin="round"/>
<polyline points="431.0,257.0 435.2,266.3 451.7,301.6 463.5,307.1 472.1,324.4" fill="none" stroke="#161616" stroke-width="0.55" stroke-linejoin="round"/>
<line x1="409.0" y1="160.0" x2="412.0" y2="166.0" stroke="#161616" stroke-width="0.6"/>
<line x1="418.0" y1="178.0" x2="420.0" y2="183.0" stroke="#161616" stroke-width="0.6"/>
<line x1="432.0" y1="210.0" x2="435.0" y2="215.0" stroke="#161616" stroke-width="0.6"/>
<line x1="438.5" y1="221.0" x2="440.5" y2="225.0" stroke="#161616" stroke-width="0.6"/>
<ellipse cx="408.6" cy="157.4" rx="2.8" ry="2.5" fill="#111" stroke="#161616" stroke-width="0.60"/>
<ellipse cx="408.3" cy="156.9" rx="1.3" ry="1.0" fill="#999" stroke="#999" stroke-width="0.30"/>
<ellipse cx="415.0" cy="172.4" rx="9.2" ry="6.3" fill="#fff" stroke="#161616" stroke-width="0.90" transform="rotate(-18 415.0 172.4)"/>
<ellipse cx="415.0" cy="172.4" rx="8.0" ry="5.3" fill="none" stroke="#161616" stroke-width="0.50" transform="rotate(-18 415.0 172.4)"/>
<ellipse cx="415.0" cy="172.4" rx="5.1" ry="3.5" fill="#e8e8e8" stroke="#161616" stroke-width="0.80" transform="rotate(-18 415.0 172.4)"/>
<ellipse cx="415.0" cy="172.4" rx="2.8" ry="1.9" fill="#fff" stroke="#161616" stroke-width="0.70" transform="rotate(-18 415.0 172.4)"/>
<ellipse cx="428.8" cy="202.8" rx="8.7" ry="5.2" fill="#fff" stroke="#161616" stroke-width="1.70" transform="rotate(-18 428.8 202.8)"/>
<ellipse cx="428.8" cy="202.8" rx="8.7" ry="5.2" fill="none" stroke="#fff" stroke-width="0.60" transform="rotate(-18 428.8 202.8)"/>
<ellipse cx="427.3" cy="199.5" rx="8.7" ry="5.2" fill="#fff" stroke="#161616" stroke-width="1.70" transform="rotate(-18 427.3 199.5)"/>
<ellipse cx="427.3" cy="199.5" rx="8.7" ry="5.2" fill="none" stroke="#fff" stroke-width="0.60" transform="rotate(-18 427.3 199.5)"/>
<ellipse cx="425.9" cy="196.3" rx="8.7" ry="5.2" fill="#fff" stroke="#161616" stroke-width="1.70" transform="rotate(-18 425.9 196.3)"/>
<ellipse cx="425.9" cy="196.3" rx="8.7" ry="5.2" fill="none" stroke="#fff" stroke-width="0.60" transform="rotate(-18 425.9 196.3)"/>
<ellipse cx="424.4" cy="193.0" rx="8.7" ry="5.2" fill="#fff" stroke="#161616" stroke-width="1.70" transform="rotate(-18 424.4 193.0)"/>
<ellipse cx="424.4" cy="193.0" rx="8.7" ry="5.2" fill="none" stroke="#fff" stroke-width="0.60" transform="rotate(-18 424.4 193.0)"/>
<ellipse cx="423.0" cy="189.8" rx="8.7" ry="5.2" fill="#fff" stroke="#161616" stroke-width="1.70" transform="rotate(-18 423.0 189.8)"/>
<ellipse cx="423.0" cy="189.8" rx="8.7" ry="5.2" fill="none" stroke="#fff" stroke-width="0.60" transform="rotate(-18 423.0 189.8)"/>
<ellipse cx="421.5" cy="186.5" rx="8.7" ry="5.2" fill="#fff" stroke="#161616" stroke-width="1.70" transform="rotate(-18 421.5 186.5)"/>
<ellipse cx="421.5" cy="186.5" rx="8.7" ry="5.2" fill="none" stroke="#fff" stroke-width="0.60" transform="rotate(-18 421.5 186.5)"/>
<ellipse cx="422.0" cy="187.6" rx="6.8" ry="3.7" fill="none" stroke="#161616" stroke-width="0.80" transform="rotate(-18 422.0 187.6)"/>
<ellipse cx="422.5" cy="188.7" rx="6.1" ry="3.2" fill="none" stroke="#161616" stroke-width="0.70" transform="rotate(-18 422.5 188.7)"/>
<path d="M433.1,216.6 L433.3,219.8 Q437.0,223.0 440.9,219.2 L440.9,216.2Z" fill="#fff" stroke="#161616" stroke-width="1.00" stroke-linejoin="round" stroke-linecap="round"/>
<path d="M433.2,218.2 Q437.0,221.4 440.9,217.7" fill="none" stroke="#161616" stroke-width="0.60" stroke-linejoin="round" stroke-linecap="round"/>
<ellipse cx="437.0" cy="216.4" rx="3.9" ry="2.2" fill="#222" stroke="#161616" stroke-width="0.90" transform="rotate(-8 437.0 216.4)"/>
<ellipse cx="436.6" cy="216.2" rx="1.6" ry="0.7" fill="#888" stroke="#888" stroke-width="0.30" transform="rotate(-8 436.6 216.2)"/>
<ellipse cx="442.0" cy="229.0" rx="9.0" ry="6.0" fill="#fff" stroke="#161616" stroke-width="0.90" transform="rotate(-14 442.0 229.0)"/>
<ellipse cx="442.2" cy="229.1" rx="3.8" ry="2.5" fill="#fff" stroke="#161616" stroke-width="0.80" transform="rotate(-14 442.2 229.1)"/>
<line x1="445.0" y1="236.0" x2="460.0" y2="266.0" stroke="#161616" stroke-width="0.6"/>
<line x1="462.5" y1="271.5" x2="480.0" y2="309.5" stroke="#161616" stroke-width="0.55" stroke-dasharray="5 5 30 5"/>
<line x1="274.0" y1="316.3" x2="309.5" y2="331.9" stroke="#161616" stroke-width="0.6"/>
<line x1="316.0" y1="334.8" x2="335.0" y2="343.1" stroke="#161616" stroke-width="0.6"/>
<line x1="348.5" y1="349.1" x2="373.0" y2="359.8" stroke="#161616" stroke-width="0.6"/>
<line x1="378.0" y1="362.0" x2="434.0" y2="387.0" stroke="#161616" stroke-width="0.55" stroke-dasharray="6 5 36 5"/>
<line x1="227.0" y1="296.5" x2="231.0" y2="298.5" stroke="#161616" stroke-width="0.6"/>
<ellipse cx="225.0" cy="295.7" rx="2.8" ry="2.5" fill="#111" stroke="#161616" stroke-width="0.60"/>
<ellipse cx="224.7" cy="295.2" rx="1.3" ry="1.0" fill="#999" stroke="#999" stroke-width="0.30"/>
<ellipse cx="237.0" cy="300.0" rx="6.6" ry="8.8" fill="#fff" stroke="#161616" stroke-width="0.90" transform="rotate(-12 237.0 300.0)"/>
<ellipse cx="237.0" cy="300.0" rx="5.4" ry="7.8" fill="none" stroke="#161616" stroke-width="0.50" transform="rotate(-12 237.0 300.0)"/>
<ellipse cx="237.0" cy="300.0" rx="3.6" ry="4.8" fill="#e8e8e8" stroke="#161616" stroke-width="0.80" transform="rotate(-12 237.0 300.0)"/>
<ellipse cx="237.0" cy="300.0" rx="2.0" ry="2.6" fill="#fff" stroke="#161616" stroke-width="0.70" transform="rotate(-12 237.0 300.0)"/>
<ellipse cx="267.5" cy="314.3" rx="9.8" ry="4.9" fill="#fff" stroke="#161616" stroke-width="1.70" transform="rotate(107 267.5 314.3)"/>
<ellipse cx="267.5" cy="314.3" rx="9.8" ry="4.9" fill="none" stroke="#fff" stroke-width="0.60" transform="rotate(107 267.5 314.3)"/>
<ellipse cx="264.3" cy="312.8" rx="9.8" ry="4.9" fill="#fff" stroke="#161616" stroke-width="1.70" transform="rotate(107 264.3 312.8)"/>
<ellipse cx="264.3" cy="312.8" rx="9.8" ry="4.9" fill="none" stroke="#fff" stroke-width="0.60" transform="rotate(107 264.3 312.8)"/>
<ellipse cx="261.1" cy="311.4" rx="9.8" ry="4.9" fill="#fff" stroke="#161616" stroke-width="1.70" transform="rotate(107 261.1 311.4)"/>
<ellipse cx="261.1" cy="311.4" rx="9.8" ry="4.9" fill="none" stroke="#fff" stroke-width="0.60" transform="rotate(107 261.1 311.4)"/>
<ellipse cx="257.9" cy="309.9" rx="9.8" ry="4.9" fill="#fff" stroke="#161616" stroke-width="1.70" transform="rotate(107 257.9 309.9)"/>
<ellipse cx="257.9" cy="309.9" rx="9.8" ry="4.9" fill="none" stroke="#fff" stroke-width="0.60" transform="rotate(107 257.9 309.9)"/>
<ellipse cx="254.7" cy="308.5" rx="9.8" ry="4.9" fill="#fff" stroke="#161616" stroke-width="1.70" transform="rotate(107 254.7 308.5)"/>
<ellipse cx="254.7" cy="308.5" rx="9.8" ry="4.9" fill="none" stroke="#fff" stroke-width="0.60" transform="rotate(107 254.7 308.5)"/>
<ellipse cx="251.5" cy="307.0" rx="9.8" ry="4.9" fill="#fff" stroke="#161616" stroke-width="1.70" transform="rotate(107 251.5 307.0)"/>
<ellipse cx="251.5" cy="307.0" rx="9.8" ry="4.9" fill="none" stroke="#fff" stroke-width="0.60" transform="rotate(107 251.5 307.0)"/>
<ellipse cx="252.6" cy="307.5" rx="7.9" ry="3.4" fill="none" stroke="#161616" stroke-width="0.80" transform="rotate(107 252.6 307.5)"/>
<ellipse cx="253.7" cy="308.0" rx="7.2" ry="2.9" fill="none" stroke="#161616" stroke-width="0.70" transform="rotate(107 253.7 308.0)"/>
<ellipse cx="313.0" cy="334.0" rx="4.4" ry="4.5" fill="#fff" stroke="#161616" stroke-width="1.00"/>
<ellipse cx="313.6" cy="334.2" rx="3.2" ry="3.4" fill="none" stroke="#161616" stroke-width="0.60"/>
<ellipse cx="312.0" cy="333.6" rx="3.0" ry="3.2" fill="#1c1c1c" stroke="#161616" stroke-width="0.60"/>
<ellipse cx="311.8" cy="333.2" rx="0.9" ry="1.0" fill="#999" stroke="#999" stroke-width="0.30"/>
<ellipse cx="341.4" cy="346.6" rx="7.2" ry="8.8" fill="#fff" stroke="#161616" stroke-width="0.90" transform="rotate(-15 341.4 346.6)"/>
<ellipse cx="341.6" cy="346.7" rx="3.0" ry="3.7" fill="#fff" stroke="#161616" stroke-width="0.80" transform="rotate(-15 341.6 346.7)"/>
<line x1="334.0" y1="342.7" x2="341.0" y2="345.8" stroke="#161616" stroke-width="0.6"/>
<line x1="288.0" y1="362.2" x2="322.5" y2="377.2" stroke="#161616" stroke-width="0.6"/>
<line x1="329.0" y1="380.1" x2="348.5" y2="388.5" stroke="#161616" stroke-width="0.6"/>
<polyline points="361.5,394.2 373.0,399.0 394.0,367.0 418.0,378.0" fill="none" stroke="#161616" stroke-width="0.60" stroke-linejoin="round"/>
<line x1="422.0" y1="380.0" x2="434.0" y2="386.0" stroke="#161616" stroke-width="0.55" stroke-dasharray="5 4"/>
<line x1="240.5" y1="341.0" x2="244.0" y2="343.0" stroke="#161616" stroke-width="0.6"/>
<ellipse cx="238.6" cy="340.0" rx="2.8" ry="2.5" fill="#111" stroke="#161616" stroke-width="0.60"/>
<ellipse cx="238.3" cy="339.5" rx="1.3" ry="1.0" fill="#999" stroke="#999" stroke-width="0.30"/>
<ellipse cx="250.0" cy="345.7" rx="6.6" ry="8.8" fill="#fff" stroke="#161616" stroke-width="0.90" transform="rotate(-12 250.0 345.7)"/>
<ellipse cx="250.0" cy="345.7" rx="5.4" ry="7.8" fill="none" stroke="#161616" stroke-width="0.50" transform="rotate(-12 250.0 345.7)"/>
<ellipse cx="250.0" cy="345.7" rx="3.6" ry="4.8" fill="#e8e8e8" stroke="#161616" stroke-width="0.80" transform="rotate(-12 250.0 345.7)"/>
<ellipse cx="250.0" cy="345.7" rx="2.0" ry="2.6" fill="#fff" stroke="#161616" stroke-width="0.70" transform="rotate(-12 250.0 345.7)"/>
<ellipse cx="281.0" cy="360.3" rx="9.8" ry="4.9" fill="#fff" stroke="#161616" stroke-width="1.70" transform="rotate(107 281.0 360.3)"/>
<ellipse cx="281.0" cy="360.3" rx="9.8" ry="4.9" fill="none" stroke="#fff" stroke-width="0.60" transform="rotate(107 281.0 360.3)"/>
<ellipse cx="277.8" cy="358.8" rx="9.8" ry="4.9" fill="#fff" stroke="#161616" stroke-width="1.70" transform="rotate(107 277.8 358.8)"/>
<ellipse cx="277.8" cy="358.8" rx="9.8" ry="4.9" fill="none" stroke="#fff" stroke-width="0.60" transform="rotate(107 277.8 358.8)"/>
<ellipse cx="274.6" cy="357.4" rx="9.8" ry="4.9" fill="#fff" stroke="#161616" stroke-width="1.70" transform="rotate(107 274.6 357.4)"/>
<ellipse cx="274.6" cy="357.4" rx="9.8" ry="4.9" fill="none" stroke="#fff" stroke-width="0.60" transform="rotate(107 274.6 357.4)"/>
<ellipse cx="271.4" cy="355.9" rx="9.8" ry="4.9" fill="#fff" stroke="#161616" stroke-width="1.70" transform="rotate(107 271.4 355.9)"/>
<ellipse cx="271.4" cy="355.9" rx="9.8" ry="4.9" fill="none" stroke="#fff" stroke-width="0.60" transform="rotate(107 271.4 355.9)"/>
<ellipse cx="268.2" cy="354.5" rx="9.8" ry="4.9" fill="#fff" stroke="#161616" stroke-width="1.70" transform="rotate(107 268.2 354.5)"/>
<ellipse cx="268.2" cy="354.5" rx="9.8" ry="4.9" fill="none" stroke="#fff" stroke-width="0.60" transform="rotate(107 268.2 354.5)"/>
<ellipse cx="265.0" cy="353.0" rx="9.8" ry="4.9" fill="#fff" stroke="#161616" stroke-width="1.70" transform="rotate(107 265.0 353.0)"/>
<ellipse cx="265.0" cy="353.0" rx="9.8" ry="4.9" fill="none" stroke="#fff" stroke-width="0.60" transform="rotate(107 265.0 353.0)"/>
<ellipse cx="266.1" cy="353.5" rx="7.9" ry="3.4" fill="none" stroke="#161616" stroke-width="0.80" transform="rotate(107 266.1 353.5)"/>
<ellipse cx="267.2" cy="354.0" rx="7.2" ry="2.9" fill="none" stroke="#161616" stroke-width="0.70" transform="rotate(107 267.2 354.0)"/>
<ellipse cx="326.0" cy="379.0" rx="4.4" ry="4.5" fill="#fff" stroke="#161616" stroke-width="1.00"/>
<ellipse cx="326.6" cy="379.2" rx="3.2" ry="3.4" fill="none" stroke="#161616" stroke-width="0.60"/>
<ellipse cx="325.0" cy="378.6" rx="3.0" ry="3.2" fill="#1c1c1c" stroke="#161616" stroke-width="0.60"/>
<ellipse cx="324.8" cy="378.2" rx="0.9" ry="1.0" fill="#999" stroke="#999" stroke-width="0.30"/>
<ellipse cx="355.0" cy="391.4" rx="7.2" ry="8.8" fill="#fff" stroke="#161616" stroke-width="0.90" transform="rotate(-15 355.0 391.4)"/>
<ellipse cx="355.2" cy="391.5" rx="3.0" ry="3.7" fill="#fff" stroke="#161616" stroke-width="0.80" transform="rotate(-15 355.2 391.5)"/>
<line x1="347.5" y1="388.1" x2="354.5" y2="391.2" stroke="#161616" stroke-width="0.6"/>
<line x1="522.6" y1="148.6" x2="521.3" y2="155.0" stroke="#161616" stroke-width="0.6"/>
<line x1="520.6" y1="158.4" x2="516.9" y2="186.6" stroke="#161616" stroke-width="0.6"/>
<line x1="512.9" y1="215.0" x2="503.6" y2="280.0" stroke="#161616" stroke-width="0.6"/>
<line x1="503.6" y1="280.0" x2="497.1" y2="327.1" stroke="#161616" stroke-width="0.6" stroke-dasharray="10 5 24 5"/>
<line x1="501.9" y1="181.0" x2="499.5" y2="198.0" stroke="#161616" stroke-width="0.6"/>
<line x1="532.9" y1="186.0" x2="530.4" y2="203.0" stroke="#161616" stroke-width="0.6"/>
<g transform="rotate(4.0 523.9 137.1)">
<path d="M521.7,139.7 L521.7,144.4 L523.3,148.2 L524.5,148.2 L526.1,144.4 L526.1,139.7Z" fill="#fff" stroke="#161616" stroke-width="0.80" stroke-linejoin="round" stroke-linecap="round"/>
<line x1="521.7" y1="141.5" x2="526.1" y2="142.0" stroke="#161616" stroke-width="0.5"/>
<line x1="521.7" y1="143.3" x2="526.1" y2="143.8" stroke="#161616" stroke-width="0.5"/>
<ellipse cx="523.9" cy="139.1" rx="4.4" ry="1.5" fill="#fff" stroke="#161616" stroke-width="0.80"/>
<path d="M520.9,138.7 L520.9,135.7 L522.0,134.5 L525.8,134.5 L526.9,135.7 L526.9,138.7Z" fill="#fff" stroke="#161616" stroke-width="0.90" stroke-linejoin="round" stroke-linecap="round"/>
<line x1="522.5" y1="136.0" x2="522.5" y2="138.7" stroke="#161616" stroke-width="0.5"/>
<line x1="525.5" y1="136.0" x2="525.5" y2="138.7" stroke="#161616" stroke-width="0.5"/>
<path d="M520.9,135.9 Q523.9,137.1 526.9,135.9" fill="none" stroke="#161616" stroke-width="0.50" stroke-linejoin="round" stroke-linecap="round"/>
</g>
<ellipse cx="521.0" cy="156.7" rx="4.3" ry="1.4" fill="#333" stroke="#161616" stroke-width="0.90" transform="rotate(5 521.0 156.7)"/>
<ellipse cx="521.0" cy="156.5" rx="1.4" ry="0.3" fill="#bbb" stroke="#bbb" stroke-width="0.30" transform="rotate(5 521.0 156.5)"/>
<g transform="rotate(4.0 504.6 161.9)">
<path d="M502.4,164.5 L502.4,180.0 L506.8,180.0 L506.8,164.5Z" fill="#fff" stroke="#161616" stroke-width="0.80" stroke-linejoin="round" stroke-linecap="round"/>
<line x1="502.4" y1="168.3" x2="506.8" y2="168.9" stroke="#161616" stroke-width="0.6"/>
<line x1="502.4" y1="170.5" x2="506.8" y2="171.1" stroke="#161616" stroke-width="0.6"/>
<line x1="502.4" y1="172.7" x2="506.8" y2="173.3" stroke="#161616" stroke-width="0.6"/>
<line x1="502.4" y1="174.9" x2="506.8" y2="175.5" stroke="#161616" stroke-width="0.6"/>
<line x1="502.4" y1="177.1" x2="506.8" y2="177.7" stroke="#161616" stroke-width="0.6"/>
<line x1="502.4" y1="179.3" x2="506.8" y2="179.9" stroke="#161616" stroke-width="0.6"/>
<ellipse cx="504.6" cy="163.9" rx="4.4" ry="1.5" fill="#fff" stroke="#161616" stroke-width="0.80"/>
<path d="M501.6,163.5 L501.6,160.5 L502.7,159.3 L506.5,159.3 L507.6,160.5 L507.6,163.5Z" fill="#fff" stroke="#161616" stroke-width="0.90" stroke-linejoin="round" stroke-linecap="round"/>
<line x1="503.2" y1="160.8" x2="503.2" y2="163.5" stroke="#161616" stroke-width="0.5"/>
<line x1="506.2" y1="160.8" x2="506.2" y2="163.5" stroke="#161616" stroke-width="0.5"/>
<path d="M501.6,160.7 Q504.6,161.9 507.6,160.7" fill="none" stroke="#161616" stroke-width="0.50" stroke-linejoin="round" stroke-linecap="round"/>
</g>
<g transform="rotate(4.0 535.3 166.4)">
<path d="M533.1,169.0 L533.1,185.0 L537.5,185.0 L537.5,169.0Z" fill="#fff" stroke="#161616" stroke-width="0.80" stroke-linejoin="round" stroke-linecap="round"/>
<line x1="533.1" y1="172.8" x2="537.5" y2="173.4" stroke="#161616" stroke-width="0.6"/>
<line x1="533.1" y1="175.0" x2="537.5" y2="175.6" stroke="#161616" stroke-width="0.6"/>
<line x1="533.1" y1="177.2" x2="537.5" y2="177.8" stroke="#161616" stroke-width="0.6"/>
<line x1="533.1" y1="179.4" x2="537.5" y2="180.0" stroke="#161616" stroke-width="0.6"/>
<line x1="533.1" y1="181.6" x2="537.5" y2="182.2" stroke="#161616" stroke-width="0.6"/>
<line x1="533.1" y1="183.8" x2="537.5" y2="184.4" stroke="#161616" stroke-width="0.6"/>
<ellipse cx="535.3" cy="168.4" rx="4.4" ry="1.5" fill="#fff" stroke="#161616" stroke-width="0.80"/>
<path d="M532.3,168.0 L532.3,165.0 L533.4,163.8 L537.2,163.8 L538.3,165.0 L538.3,168.0Z" fill="#fff" stroke="#161616" stroke-width="0.90" stroke-linejoin="round" stroke-linecap="round"/>
<line x1="533.9" y1="165.3" x2="533.9" y2="168.0" stroke="#161616" stroke-width="0.5"/>
<line x1="536.9" y1="165.3" x2="536.9" y2="168.0" stroke="#161616" stroke-width="0.5"/>
<path d="M532.3,165.2 Q535.3,166.4 538.3,165.2" fill="none" stroke="#161616" stroke-width="0.50" stroke-linejoin="round" stroke-linecap="round"/>
</g>
<path d="M520.7,194.6 L532.9,192.9 Q538.5,193.5 540,200 Q539.5,205 535,206.6 L526,203.5Z" fill="#fff" stroke="#161616" stroke-width="0.90" stroke-linejoin="round" stroke-linecap="round"/>
<path d="M534.2,193.2 Q537.3,198.5 534.3,205.9" fill="none" stroke="#161616" stroke-width="0.90" stroke-linejoin="round" stroke-linecap="round"/>
<path d="M535.4,193.5 Q538.6,198.8 535.3,206.2" fill="none" stroke="#161616" stroke-width="0.60" stroke-linejoin="round" stroke-linecap="round"/>
<path d="M493.9,199.3 L493.9,206.4 L506.4,212.1 L521.4,214.3 L532.1,213.6 L535,207.9 L535,203.6 L532.1,206.4 L521.4,207.1 L505.7,205.7Z" fill="#fff" stroke="#161616" stroke-width="0.90" stroke-linejoin="round" stroke-linecap="round"/>
<line x1="505.7" y1="205.7" x2="506.4" y2="212.1" stroke="#161616" stroke-width="0.6"/>
<line x1="521.4" y1="207.1" x2="521.4" y2="214.3" stroke="#161616" stroke-width="0.6"/>
<line x1="532.1" y1="206.4" x2="532.1" y2="213.6" stroke="#161616" stroke-width="0.6"/>
<path d="M493.9,199.3 L496,197.6 L503.5,198.6 L504.7,201.4 L508.6,197.1 L511.2,195 L520.7,195 L523.6,198.6 L526.4,203.2 L530.5,202.3 L535,203.6 L532.1,206.4 L521.4,207.1 L505.7,205.7Z" fill="#fff" stroke="#161616" stroke-width="0.90" stroke-linejoin="round" stroke-linecap="round"/>
<path d="M504.7,201.6 Q506.5,198.5 508.6,197.1 Q510,195.6 511.2,195 L520.7,195 Q523.5,197.5 526.4,203.4 Q516,206 504.7,201.6Z" fill="#fff" stroke="#161616" stroke-width="0.90" stroke-linejoin="round" stroke-linecap="round"/>
<path d="M511.1,188.4 L511.1,195.2 Q515.7,197 520.6,195.2 L520.6,188.4Z" fill="#fff" stroke="#161616" stroke-width="0.90" stroke-linejoin="round" stroke-linecap="round"/>
<ellipse cx="515.8" cy="188.3" rx="4.7" ry="1.5" fill="#fff" stroke="#161616" stroke-width="0.90"/>
<ellipse cx="515.8" cy="188.4" rx="2.6" ry="0.8" fill="#444" stroke="#161616" stroke-width="0.60"/>
<ellipse cx="499.3" cy="199.4" rx="2.2" ry="0.9" fill="#555" stroke="#161616" stroke-width="0.70" transform="rotate(5 499.3 199.4)"/>
<ellipse cx="529.3" cy="203.7" rx="2.2" ry="0.9" fill="#555" stroke="#161616" stroke-width="0.70" transform="rotate(5 529.3 203.7)"/>
<ellipse cx="511.4" cy="227.1" rx="11.2" ry="3.2" fill="#fff" stroke="#161616" stroke-width="0.80" transform="rotate(8 511.4 227.1)"/>
<ellipse cx="511.4" cy="227.1" rx="8.8" ry="2.0" fill="#fff" stroke="#161616" stroke-width="0.70" transform="rotate(8 511.4 227.1)"/>
<line x1="512.0" y1="224.2" x2="511.2" y2="229.8" stroke="#161616" stroke-width="0.6"/>
<ellipse cx="509.6" cy="238.6" rx="11.4" ry="3.4" fill="#fff" stroke="#222" stroke-width="2.50" transform="rotate(8 509.6 238.6)"/>
<ellipse cx="509.6" cy="238.6" rx="11.4" ry="3.4" fill="none" stroke="#aaa" stroke-width="0.50" transform="rotate(8 509.6 238.6)"/>
<line x1="510.3" y1="235.5" x2="509.4" y2="241.8" stroke="#161616" stroke-width="0.6"/>
<g transform="rotate(5 565 240)">
<path d="M562,250 L562,259.5 Q565,260.8 568,259.5 L568,250Z" fill="#fff" stroke="#161616" stroke-width="0.90" stroke-linejoin="round" stroke-linecap="round"/>
<path d="M560.8,242.5 L561.2,250 L568.8,250 L569.2,242.5Z" fill="#fff" stroke="#161616" stroke-width="0.90" stroke-linejoin="round" stroke-linecap="round"/>
<line x1="561.0" y1="244.3" x2="569.0" y2="245.1" stroke="#161616" stroke-width="0.6"/>
<line x1="561.0" y1="246.2" x2="569.0" y2="247.0" stroke="#161616" stroke-width="0.6"/>
<line x1="561.0" y1="248.1" x2="569.0" y2="248.9" stroke="#161616" stroke-width="0.6"/>
<path d="M557.5,237 L557.5,241.6 L561,243.4 L569,243.4 L572.5,241.6 L572.5,237 L569,235.6 L561,235.6Z" fill="#fff" stroke="#161616" stroke-width="1.00" stroke-linejoin="round" stroke-linecap="round"/>
<line x1="561.0" y1="238.0" x2="561.0" y2="243.4" stroke="#161616" stroke-width="0.6"/>
<line x1="569.0" y1="238.0" x2="569.0" y2="243.4" stroke="#161616" stroke-width="0.6"/>
<path d="M557.5,237 L561,238.2 L569,238.2 L572.5,237" fill="none" stroke="#161616" stroke-width="0.60" stroke-linejoin="round" stroke-linecap="round"/>
<path d="M560.2,229 L560.2,236 L569.8,236 L569.8,229Z" fill="#fff" stroke="#161616" stroke-width="0.90" stroke-linejoin="round" stroke-linecap="round"/>
<path d="M558.6,217.5 L558.6,229.4 L571.4,229.4 L571.4,217.5 L568,216.2 L562,216.2Z" fill="#fff" stroke="#161616" stroke-width="1.10" stroke-linejoin="round" stroke-linecap="round"/>
<path d="M560.5,219.5 L560.5,227.5 L564,227.5 L564,219.5Z" fill="none" stroke="#161616" stroke-width="0.70" stroke-linejoin="round" stroke-linecap="round"/>
<path d="M565.6,219.5 L565.6,227.5 L569.6,227.5 L569.6,219.5Z" fill="none" stroke="#161616" stroke-width="0.70" stroke-linejoin="round" stroke-linecap="round"/>
<line x1="558.6" y1="223.5" x2="571.4" y2="223.5" stroke="#161616" stroke-width="0.6"/>
<path d="M561.5,216.2 L561.5,214.6 L565,214.6 L565,216.2" fill="#333" stroke="#161616" stroke-width="0.90" stroke-linejoin="round" stroke-linecap="round"/>
<path d="M569.5,218 L571.4,217.5 L572.6,221 L571.4,224" fill="none" stroke="#161616" stroke-width="0.80" stroke-linejoin="round" stroke-linecap="round"/>
</g>
<line x1="561.4" y1="261.0" x2="553.1" y2="320.3" stroke="#161616" stroke-width="0.6" stroke-dasharray="23 5 8 5 200"/>
<line x1="553.1" y1="320.3" x2="484.6" y2="297.4" stroke="#161616" stroke-width="0.6" stroke-dasharray="26 5 8 5 200"/>
<line x1="484.6" y1="297.4" x2="484.6" y2="317.5" stroke="#161616" stroke-width="0.6"/>
<g transform="rotate(-14 610 313)">
<path d="M608.6,301.5 L611.4,301.5 L611.8,304 L612.6,304.5 L612.6,309 L607.4,309 L607.4,304.5 L608.2,304Z" fill="#222" stroke="#161616" stroke-width="0.80" stroke-linejoin="round" stroke-linecap="round"/>
<ellipse cx="610.0" cy="302.2" rx="0.9" ry="0.9" fill="#ccc" stroke="#ccc" stroke-width="0.30"/>
<path d="M604.2,309 L615.8,309 L616.6,311 L616.6,315.5 L614,317.6 L606,317.6 L603.4,315.5 L603.4,311Z" fill="#333" stroke="#161616" stroke-width="1.00" stroke-linejoin="round" stroke-linecap="round"/>
<path d="M606.5,311.2 Q610,314.5 613.5,311.2 Q610,312.6 606.5,311.2Z" fill="#eee" stroke="#eee" stroke-width="0.40" stroke-linejoin="round" stroke-linecap="round"/>
<path d="M606,317.6 L606.6,323.8 L613.4,323.8 L614,317.6Z" fill="#444" stroke="#161616" stroke-width="0.90" stroke-linejoin="round" stroke-linecap="round"/>
<line x1="606.2" y1="319.6" x2="613.8" y2="319.6" stroke="#ccc" stroke-width="0.5"/>
<line x1="606.4" y1="321.6" x2="613.6" y2="321.6" stroke="#ccc" stroke-width="0.5"/>
</g>
<polyline points="613.2,324.6 623.0,361.0" fill="none" stroke="#161616" stroke-width="0.65" stroke-linejoin="round"/>
<line x1="622.9" y1="360.3" x2="534.9" y2="330.6" stroke="#161616" stroke-width="0.6" stroke-dasharray="35 5 9 5 200"/>
<line x1="534.9" y1="330.6" x2="524.6" y2="343.1" stroke="#161616" stroke-width="0.6"/>
<line x1="409.3" y1="497.9" x2="412.5" y2="493.5" stroke="#161616" stroke-width="0.6"/>
<line x1="414.5" y1="490.5" x2="420.0" y2="482.0" stroke="#161616" stroke-width="0.55" stroke-dasharray="6 4"/>
<line x1="390.7" y1="527.9" x2="379.3" y2="546.4" stroke="#161616" stroke-width="0.65"/>
<path d="M404.7,499.9 L390.0,523.9 Q391.4,527.1 394.8,526.9 L409.5,502.9Z" fill="#fff" stroke="#161616" stroke-width="0.90" stroke-linejoin="round" stroke-linecap="round"/>
<path d="M404.3,500.6 L409.1,503.5 M403.2,502.4 L408.0,505.3 M402.1,504.2 L406.9,507.1 M401.0,506.0 L405.8,508.9 M399.9,507.8 L404.7,510.7 M396.6,513.2 L401.4,516.1 M395.5,514.9 L400.3,517.9 M394.4,516.7 L399.2,519.7 M393.3,518.5 L398.1,521.5 M392.2,520.3 L397.0,523.2 M391.1,522.1 L395.9,525.0 " fill="none" stroke="#161616" stroke-width="0.95" stroke-linejoin="round" stroke-linecap="round"/>
<path d="M443.3,500.7 L429.2,524.7 Q430.6,527.8 434.0,527.5 L448.1,503.5Z" fill="#fff" stroke="#161616" stroke-width="0.90" stroke-linejoin="round" stroke-linecap="round"/>
<path d="M442.9,501.4 L447.7,504.2 M441.8,503.2 L446.6,506.0 M440.8,505.0 L445.6,507.8 M439.7,506.8 L444.5,509.6 M438.6,508.6 L443.5,511.5 M435.4,514.0 L440.3,516.9 M434.4,515.9 L439.2,518.7 M433.3,517.7 L438.1,520.5 M432.2,519.5 L437.1,522.3 M431.2,521.3 L436.0,524.1 M430.1,523.1 L434.9,525.9 " fill="none" stroke="#161616" stroke-width="0.95" stroke-linejoin="round" stroke-linecap="round"/>
<line x1="430.0" y1="529.3" x2="418.6" y2="547.0" stroke="#161616" stroke-width="0.6" stroke-dasharray="5 5 12 5"/>
<path d="M371.7,548.7 L371.7,552.3 L374.8,555.2 L379.0,555.7 L381.6,552.9 L382.1,549.7Z" fill="#fff" stroke="#161616" stroke-width="1.20" stroke-linejoin="round" stroke-linecap="round"/>
<path d="M371.7,552.3 L374.8,555.2 L379.0,555.7 L381.6,552.9" fill="none" stroke="#222" stroke-width="2.20" stroke-linejoin="round" stroke-linecap="round"/>
<path d="M374.8,549.7 L374.8,555.0" fill="none" stroke="#161616" stroke-width="0.80" stroke-linejoin="round" stroke-linecap="round"/>
<path d="M378.7,550.0 L378.9,555.5" fill="none" stroke="#161616" stroke-width="0.80" stroke-linejoin="round" stroke-linecap="round"/>
<ellipse cx="377.1" cy="547.3" rx="6.0" ry="2.5" fill="#fff" stroke="#161616" stroke-width="1.20" transform="rotate(18 377.1 547.3)"/>
<ellipse cx="377.1" cy="547.2" rx="4.6" ry="1.6" fill="none" stroke="#161616" stroke-width="0.70" transform="rotate(18 377.1 547.2)"/>
<path d="M371.3,547.1 L371.7,549.0" fill="none" stroke="#161616" stroke-width="1.00" stroke-linejoin="round" stroke-linecap="round"/>
<path d="M382.8,548.2 L382.1,550.0" fill="none" stroke="#161616" stroke-width="1.00" stroke-linejoin="round" stroke-linecap="round"/>
<path d="M410.6,549.3 L410.6,552.9 L413.7,555.9 L417.9,556.3 L420.5,553.5 L421.0,550.3Z" fill="#fff" stroke="#161616" stroke-width="1.20" stroke-linejoin="round" stroke-linecap="round"/>
<path d="M410.6,552.9 L413.7,555.9 L417.9,556.3 L420.5,553.5" fill="none" stroke="#222" stroke-width="2.20" stroke-linejoin="round" stroke-linecap="round"/>
<path d="M413.7,550.3 L413.7,555.6" fill="none" stroke="#161616" stroke-width="0.80" stroke-linejoin="round" stroke-linecap="round"/>
<path d="M417.6,550.6 L417.8,556.1" fill="none" stroke="#161616" stroke-width="0.80" stroke-linejoin="round" stroke-linecap="round"/>
<ellipse cx="416.0" cy="547.9" rx="6.0" ry="2.5" fill="#fff" stroke="#161616" stroke-width="1.20" transform="rotate(18 416.0 547.9)"/>
<ellipse cx="416.0" cy="547.8" rx="4.6" ry="1.6" fill="none" stroke="#161616" stroke-width="0.70" transform="rotate(18 416.0 547.8)"/>
<path d="M410.2,547.7 L410.6,549.6" fill="none" stroke="#161616" stroke-width="1.00" stroke-linejoin="round" stroke-linecap="round"/>
<path d="M421.7,548.8 L421.0,550.6" fill="none" stroke="#161616" stroke-width="1.00" stroke-linejoin="round" stroke-linecap="round"/>
<polyline points="421.4,478.9 440.3,449.1 472.9,460.6 462.6,477.7" fill="none" stroke="#161616" stroke-width="0.65" stroke-linejoin="round"/>
<line x1="462.0" y1="449.7" x2="445.7" y2="476.6" stroke="#161616" stroke-width="0.65"/>
<line x1="464.0" y1="446.5" x2="460.5" y2="452.0" stroke="#161616" stroke-width="1.6"/>
<line x1="418.0" y1="484.6" x2="413.4" y2="491.4" stroke="#161616" stroke-width="0.55"/>
<line x1="458.0" y1="485.5" x2="456.5" y2="488.0" stroke="#161616" stroke-width="0.6"/>
<ellipse cx="442.6" cy="481.7" rx="17.0" ry="5.6" fill="#fff" stroke="#161616" stroke-width="1.00" transform="rotate(28.5 442.6 481.7)"/>
<ellipse cx="443.6" cy="480.6" rx="15.0" ry="3.6" fill="#fff" stroke="#161616" stroke-width="0.80" transform="rotate(28.5 443.6 480.6)"/>
<ellipse cx="443.1" cy="481.2" rx="16.0" ry="4.6" fill="none" stroke="#161616" stroke-width="0.50" transform="rotate(28.5 443.1 481.2)"/>
<line x1="453.4" y1="492.6" x2="447.1" y2="502.3" stroke="#161616" stroke-width="0.6"/>
<line x1="566.3" y1="380.0" x2="585.0" y2="420.0" stroke="#161616" stroke-width="0.6"/>
<line x1="520.0" y1="457.6" x2="533.6" y2="464.0" stroke="#161616" stroke-width="0.6"/>
<line x1="520.0" y1="458.9" x2="533.0" y2="465.2" stroke="#161616" stroke-width="0.6"/>
<ellipse cx="586.0" cy="458.3" rx="11.7" ry="7.9" fill="#fff" stroke="#161616" stroke-width="1.00" transform="rotate(-20 586.0 458.3)"/>
<ellipse cx="585.7" cy="457.5" rx="10.5" ry="6.7" fill="#fff" stroke="#161616" stroke-width="0.60" transform="rotate(-20 585.7 457.5)"/>
<ellipse cx="585.0" cy="456.4" rx="7.0" ry="4.3" fill="#fff" stroke="#161616" stroke-width="0.80" transform="rotate(-20 585.0 456.4)"/>
<polygon points="562.9,414.3 581.5,453.6 584.3,452.2 565.7,412.9" fill="#fff" stroke="#161616" stroke-width="0.85" stroke-linejoin="round"/>
<polygon points="563.2,415.0 565.0,418.8 567.8,417.5 566.0,413.7" fill="#3a3a3a" stroke="#161616" stroke-width="0.60" stroke-linejoin="round"/>
<line x1="563.8" y1="416.1" x2="566.6" y2="414.7" stroke="#ddd" stroke-width="0.45"/>
<line x1="564.4" y1="417.5" x2="567.2" y2="416.2" stroke="#ddd" stroke-width="0.45"/>
<ellipse cx="582.9" cy="452.9" rx="1.6" ry="1.0" fill="#444" stroke="#161616" stroke-width="0.50"/>
<ellipse cx="606.4" cy="465.4" rx="11.7" ry="7.9" fill="#fff" stroke="#161616" stroke-width="1.00" transform="rotate(-20 606.4 465.4)"/>
<ellipse cx="606.1" cy="464.6" rx="10.5" ry="6.7" fill="#fff" stroke="#161616" stroke-width="0.60" transform="rotate(-20 606.1 464.6)"/>
<ellipse cx="605.4" cy="463.5" rx="7.0" ry="4.3" fill="#fff" stroke="#161616" stroke-width="0.80" transform="rotate(-20 605.4 463.5)"/>
<polygon points="582.6,421.4 601.5,460.7 604.3,459.3 585.4,420.0" fill="#fff" stroke="#161616" stroke-width="0.85" stroke-linejoin="round"/>
<polygon points="582.9,422.1 584.8,425.9 587.6,424.5 585.7,420.7" fill="#3a3a3a" stroke="#161616" stroke-width="0.60" stroke-linejoin="round"/>
<line x1="583.5" y1="423.2" x2="586.3" y2="421.8" stroke="#ddd" stroke-width="0.45"/>
<line x1="584.2" y1="424.6" x2="587.0" y2="423.3" stroke="#ddd" stroke-width="0.45"/>
<ellipse cx="602.9" cy="460.0" rx="1.6" ry="1.0" fill="#444" stroke="#161616" stroke-width="0.50"/>
<ellipse cx="572.1" cy="480.9" rx="10.4" ry="7.0" fill="#fff" stroke="#161616" stroke-width="1.00" transform="rotate(113.19859051364818 572.1 480.9)"/>
<ellipse cx="571.4" cy="480.6" rx="9.2" ry="6.0" fill="#fff" stroke="#161616" stroke-width="0.60" transform="rotate(113.19859051364818 571.4 480.6)"/>
<ellipse cx="570.8" cy="480.3" rx="6.4" ry="4.1" fill="#fff" stroke="#161616" stroke-width="0.80" transform="rotate(113.19859051364818 570.8 480.3)"/>
<ellipse cx="570.6" cy="480.3" rx="3.7" ry="2.4" fill="#fff" stroke="#161616" stroke-width="0.70" transform="rotate(113.19859051364818 570.6 480.3)"/>
<polygon points="533.0,466.4 568.0,481.4 569.2,478.6 534.2,463.6" fill="#fff" stroke="#161616" stroke-width="0.85" stroke-linejoin="round"/>
<polygon points="533.7,466.7 537.6,468.4 538.8,465.5 534.9,463.9" fill="#3a3a3a" stroke="#161616" stroke-width="0.60" stroke-linejoin="round"/>
<line x1="534.8" y1="467.2" x2="536.0" y2="464.4" stroke="#ddd" stroke-width="0.45"/>
<line x1="536.3" y1="467.8" x2="537.5" y2="465.0" stroke="#ddd" stroke-width="0.45"/>
<ellipse cx="568.6" cy="480.0" rx="1.6" ry="1.0" fill="#444" stroke="#161616" stroke-width="0.50"/>
<ellipse cx="591.4" cy="487.9" rx="11.4" ry="7.9" fill="#fff" stroke="#161616" stroke-width="1.00" transform="rotate(113.19859051364818 591.4 487.9)"/>
<ellipse cx="590.7" cy="487.6" rx="10.2" ry="6.9" fill="#fff" stroke="#161616" stroke-width="0.60" transform="rotate(113.19859051364818 590.7 487.6)"/>
<ellipse cx="590.1" cy="487.3" rx="7.1" ry="4.6" fill="#fff" stroke="#161616" stroke-width="0.80" transform="rotate(113.19859051364818 590.1 487.3)"/>
<ellipse cx="589.9" cy="487.3" rx="4.1" ry="2.7" fill="#fff" stroke="#161616" stroke-width="0.70" transform="rotate(113.19859051364818 589.9 487.3)"/>
<polygon points="551.5,472.1 586.5,487.1 587.7,484.3 552.7,469.3" fill="#fff" stroke="#161616" stroke-width="0.85" stroke-linejoin="round"/>
<polygon points="552.2,472.4 556.1,474.1 557.3,471.2 553.4,469.6" fill="#3a3a3a" stroke="#161616" stroke-width="0.60" stroke-linejoin="round"/>
<line x1="553.3" y1="472.9" x2="554.5" y2="470.1" stroke="#ddd" stroke-width="0.45"/>
<line x1="554.8" y1="473.5" x2="556.0" y2="470.7" stroke="#ddd" stroke-width="0.45"/>
<ellipse cx="587.1" cy="485.7" rx="1.6" ry="1.0" fill="#444" stroke="#161616" stroke-width="0.50"/>
<path d="M33.1,565.5 L50.9,546.1 L54.3,547.4 L54.3,550.9 L73.7,544.9 L77.1,546.5 L77.1,560 L54.9,567.4 L54.9,574.3 L37.1,566.6Z" fill="#fff" stroke="#161616" stroke-width="0.90" stroke-linejoin="round" stroke-linecap="round"/>
<path d="M37.1,566.6 L54.3,547.4" fill="none" stroke="#161616" stroke-width="0.70" stroke-linejoin="round" stroke-linecap="round"/>
<path d="M54.3,554 L77.1,546.5" fill="none" stroke="#161616" stroke-width="0.70" stroke-linejoin="round" stroke-linecap="round"/>
<path d="M54.3,550.9 L54.3,554" fill="none" stroke="#161616" stroke-width="0.70" stroke-linejoin="round" stroke-linecap="round"/>
<text transform="translate(53.6,566) rotate(-16.5) skewX(-8) scale(0.7,1)" font-family="Liberation Serif,serif" font-weight="700" font-style="italic" font-size="12.5" fill="#111" stroke="#111" stroke-width="0.55">FWD</text>
<polygon points="170.9,203.1 238.5,226.7 199.9,287.1 132.2,264.1" fill="none" stroke="#161616" stroke-width="0.70" stroke-dasharray="3.6 1.7" stroke-linejoin="round"/>
<line x1="171.5" y1="225.5" x2="178.5" y2="233.5" stroke="#161616" stroke-width="0.6"/>
<line x1="192.0" y1="232.0" x2="199.0" y2="240.5" stroke="#161616" stroke-width="0.6"/>
<path d="M157.5,242.5 L171,245.5 L171,257 L156.5,254.5 Q153.6,253 153.8,248 Q154.2,243.5 157.5,242.5Z" fill="#fff" stroke="#161616" stroke-width="1.08" stroke-linejoin="round" stroke-linecap="round"/>
<path d="M157.5,242.5 Q155.3,244.5 155.2,248.5 Q155.3,252.8 156.8,254.5" fill="none" stroke="#161616" stroke-width="0.72" stroke-linejoin="round" stroke-linecap="round"/>
<path d="M170,250 L190,253 Q194.5,255 194.3,260 Q193.8,264.5 190,265.2 L176,263.5Z" fill="#fff" stroke="#161616" stroke-width="1.08" stroke-linejoin="round" stroke-linecap="round"/>
<ellipse cx="190.2" cy="259.2" rx="3.6" ry="5.8" fill="#fff" stroke="#161616" stroke-width="1.08" transform="rotate(8 190.2 259.2)"/>
<ellipse cx="189.6" cy="259.2" rx="2.2" ry="4.0" fill="#fff" stroke="#161616" stroke-width="0.84" transform="rotate(8 189.6 259.2)"/>
<path d="M183,257 Q182,260 183.2,262.6" fill="none" stroke="#161616" stroke-width="0.84" stroke-linejoin="round" stroke-linecap="round"/>
<ellipse cx="165.2" cy="266.0" rx="4.4" ry="5.0" fill="#fff" stroke="#161616" stroke-width="1.08"/>
<path d="M165.2,261 L174.5,261.8 M164.5,271 L174,272.3" fill="none" stroke="#161616" stroke-width="1.08" stroke-linejoin="round" stroke-linecap="round"/>
<ellipse cx="174.5" cy="267.2" rx="4.7" ry="5.2" fill="#fff" stroke="#161616" stroke-width="1.08" transform="rotate(10 174.5 267.2)"/>
<ellipse cx="174.7" cy="267.4" rx="2.2" ry="2.7" fill="#fff" stroke="#161616" stroke-width="0.96" transform="rotate(10 174.7 267.4)"/>
<path d="M161.5,269.5 Q166,275.5 176,273.6" fill="none" stroke="#161616" stroke-width="0.84" stroke-linejoin="round" stroke-linecap="round"/>
<path d="M176.5,233.2 Q171,240 166,251 Q163,258 162.2,263 L165.8,262.5 Q167,256 170.5,249.5 Q175,241.5 181,236.5Z" fill="#fff" stroke="#161616" stroke-width="1.08" stroke-linejoin="round" stroke-linecap="round"/>
<path d="M178,234.6 Q172.5,241.5 168,251.5 Q165.5,257.5 164.6,262.4" fill="none" stroke="#161616" stroke-width="0.60" stroke-linejoin="round" stroke-linecap="round"/>
<path d="M172,247.5 Q170.5,255 170.6,262.5 L174,262 Q173.8,255.5 175.5,249Z" fill="#fff" stroke="#161616" stroke-width="0.96" stroke-linejoin="round" stroke-linecap="round"/>
<path d="M180,237 L176.8,246.5 L188.5,250.5 L184.5,243.8Z" fill="#fff" stroke="#161616" stroke-width="0.96" stroke-linejoin="round" stroke-linecap="round"/>
<path d="M174,246.2 L190.5,251.5" fill="none" stroke="#161616" stroke-width="1.44" stroke-linejoin="round" stroke-linecap="round"/>
<path d="M186.5,246.5 Q192,243 197.5,239.6 L203.5,241.6 L203,244.2 Q196,247.5 192.5,252.2 L188.6,251.2Z" fill="#fff" stroke="#161616" stroke-width="1.08" stroke-linejoin="round" stroke-linecap="round"/>
<path d="M188,248.6 Q194,245.2 200.5,242.8" fill="none" stroke="#161616" stroke-width="0.60" stroke-linejoin="round" stroke-linecap="round"/>
<ellipse cx="179.0" cy="235.0" rx="3.6" ry="2.5" fill="#fff" stroke="#161616" stroke-width="1.08" transform="rotate(-25 179.0 235.0)"/>
<ellipse cx="179.0" cy="235.0" rx="1.7" ry="1.1" fill="#fff" stroke="#161616" stroke-width="0.72" transform="rotate(-25 179.0 235.0)"/>
<ellipse cx="199.6" cy="242.0" rx="3.6" ry="2.5" fill="#fff" stroke="#161616" stroke-width="1.08" transform="rotate(-20 199.6 242.0)"/>
<ellipse cx="199.6" cy="242.0" rx="1.7" ry="1.1" fill="#fff" stroke="#161616" stroke-width="0.72" transform="rotate(-20 199.6 242.0)"/>
<path d="M180.4,241.1 L185.4,247.5 Q187.8,248.1 187.8,245.7 L182.8,239.3Z" fill="#2e2e2e" stroke="#161616" stroke-width="0.96" stroke-linejoin="round" stroke-linecap="round"/>
<line x1="181.4" y1="241.9" x2="183.3" y2="240.4" stroke="#bbb" stroke-width="0.4"/>
<line x1="182.4" y1="243.1" x2="184.3" y2="241.7" stroke="#bbb" stroke-width="0.4"/>
<line x1="183.4" y1="244.4" x2="185.3" y2="242.9" stroke="#bbb" stroke-width="0.4"/>
<line x1="184.3" y1="245.7" x2="186.2" y2="244.2" stroke="#bbb" stroke-width="0.4"/>
<line x1="185.3" y1="246.9" x2="187.2" y2="245.5" stroke="#bbb" stroke-width="0.4"/>
<path d="M200.8,250.0 L207.0,258.0 Q210.6,259.0 210.6,255.2 L204.4,247.2Z" fill="#2e2e2e" stroke="#161616" stroke-width="0.96" stroke-linejoin="round" stroke-linecap="round"/>
<line x1="201.9" y1="250.7" x2="204.8" y2="248.4" stroke="#bbb" stroke-width="0.4"/>
<line x1="202.9" y1="251.9" x2="205.8" y2="249.7" stroke="#bbb" stroke-width="0.4"/>
<line x1="203.8" y1="253.2" x2="206.7" y2="251.0" stroke="#bbb" stroke-width="0.4"/>
<line x1="204.8" y1="254.5" x2="207.7" y2="252.2" stroke="#bbb" stroke-width="0.4"/>
<line x1="205.8" y1="255.7" x2="208.7" y2="253.5" stroke="#bbb" stroke-width="0.4"/>
<line x1="206.8" y1="257.0" x2="209.7" y2="254.7" stroke="#bbb" stroke-width="0.4"/>
<ellipse cx="169.0" cy="222.5" rx="3.9" ry="3.3" fill="#555" stroke="#161616" stroke-width="1.08" transform="rotate(-15 169.0 222.5)"/>
<ellipse cx="168.8" cy="222.1" rx="2.8" ry="2.2" fill="#eee" stroke="#161616" stroke-width="0.60" transform="rotate(-15 168.8 222.1)"/>
<ellipse cx="168.9" cy="222.3" rx="1.5" ry="1.1" fill="#666" stroke="#161616" stroke-width="0.96" transform="rotate(-15 168.9 222.3)"/>
<ellipse cx="189.5" cy="228.8" rx="3.9" ry="3.3" fill="#555" stroke="#161616" stroke-width="1.08" transform="rotate(-15 189.5 228.8)"/>
<ellipse cx="189.3" cy="228.4" rx="2.8" ry="2.2" fill="#eee" stroke="#161616" stroke-width="0.60" transform="rotate(-15 189.3 228.4)"/>
<ellipse cx="189.4" cy="228.6" rx="1.5" ry="1.1" fill="#666" stroke="#161616" stroke-width="0.96" transform="rotate(-15 189.4 228.6)"/>
<polygon points="187.9,398.9 255.2,422.5 217.1,483.2 149.3,459.6" fill="none" stroke="#161616" stroke-width="0.70" stroke-dasharray="3.6 1.7" stroke-linejoin="round"/>
<path d="M204,424 L212,427 Q219.5,428.5 220,434.5 Q219.5,440 213,441 L205,440Z" fill="#fff" stroke="#161616" stroke-width="1.08" stroke-linejoin="round" stroke-linecap="round"/>
<ellipse cx="215.0" cy="434.2" rx="4.8" ry="5.6" fill="#fff" stroke="#161616" stroke-width="1.08" transform="rotate(15 215.0 434.2)"/>
<ellipse cx="215.3" cy="434.2" rx="2.9" ry="3.5" fill="#fff" stroke="#161616" stroke-width="0.96" transform="rotate(15 215.3 434.2)"/>
<path d="M208.5,427.5 Q206.6,433.5 208.2,440.2" fill="none" stroke="#161616" stroke-width="0.72" stroke-linejoin="round" stroke-linecap="round"/>
<path d="M180,423 Q181,416 187,412 Q193,408.5 200,410 Q206.5,412 206.4,418.5 Q206,423.5 200.5,423.6 L197,423.2 Q191,426 190,433 L182,432.5 Q179,428 180,423Z" fill="#fff" stroke="#161616" stroke-width="1.08" stroke-linejoin="round" stroke-linecap="round"/>
<path d="M182,421 Q184,415 190.5,412.8 M183.5,423.5 Q186,418 192,415.5" fill="none" stroke="#161616" stroke-width="0.60" stroke-linejoin="round" stroke-linecap="round"/>
<ellipse cx="202.4" cy="418.2" rx="3.9" ry="4.5" fill="#fff" stroke="#161616" stroke-width="1.08" transform="rotate(15 202.4 418.2)"/>
<ellipse cx="202.6" cy="418.2" rx="2.0" ry="2.4" fill="#fff" stroke="#161616" stroke-width="0.96" transform="rotate(15 202.6 418.2)"/>
<path d="M193,420 Q187.5,426 185.5,434 L183.5,440 L188.5,441.5 Q189.5,433 192.5,428 Q194.5,425 197.5,423Z" fill="#fff" stroke="#161616" stroke-width="1.08" stroke-linejoin="round" stroke-linecap="round"/>
<path d="M194.5,421.5 Q189.5,427.5 187.5,435 L186,440.6" fill="none" stroke="#161616" stroke-width="0.60" stroke-linejoin="round" stroke-linecap="round"/>
<path d="M199.8,424.5 L202.5,445.5 L206.5,445 L202.6,424.5Z" fill="#fff" stroke="#161616" stroke-width="0.96" stroke-linejoin="round" stroke-linecap="round"/>
<line x1="201.2" y1="425.0" x2="204.4" y2="445.2" stroke="#161616" stroke-width="0.5"/>
<path d="M198.8,423.2 L203.5,423.6" fill="none" stroke="#161616" stroke-width="1.68" stroke-linejoin="round" stroke-linecap="round"/>
<ellipse cx="185.8" cy="442.3" rx="4.6" ry="3.4" fill="#fff" stroke="#161616" stroke-width="1.08" transform="rotate(-15 185.8 442.3)"/>
<ellipse cx="185.6" cy="442.2" rx="1.6" ry="1.2" fill="#fff" stroke="#161616" stroke-width="0.84" transform="rotate(-15 185.6 442.2)"/>
<ellipse cx="205.4" cy="448.0" rx="4.6" ry="3.4" fill="#fff" stroke="#161616" stroke-width="1.08" transform="rotate(-15 205.4 448.0)"/>
<ellipse cx="205.2" cy="447.8" rx="1.6" ry="1.2" fill="#fff" stroke="#161616" stroke-width="0.84" transform="rotate(-15 205.2 447.8)"/>
<ellipse cx="176.8" cy="434.5" rx="3.9" ry="3.3" fill="#555" stroke="#161616" stroke-width="1.08" transform="rotate(-15 176.8 434.5)"/>
<ellipse cx="176.6" cy="434.1" rx="2.8" ry="2.2" fill="#eee" stroke="#161616" stroke-width="0.60" transform="rotate(-15 176.6 434.1)"/>
<ellipse cx="176.7" cy="434.3" rx="1.5" ry="1.1" fill="#666" stroke="#161616" stroke-width="0.96" transform="rotate(-15 176.7 434.3)"/>
<ellipse cx="196.8" cy="440.8" rx="3.9" ry="3.3" fill="#555" stroke="#161616" stroke-width="1.08" transform="rotate(-15 196.8 440.8)"/>
<ellipse cx="196.6" cy="440.4" rx="2.8" ry="2.2" fill="#eee" stroke="#161616" stroke-width="0.60" transform="rotate(-15 196.6 440.4)"/>
<ellipse cx="196.7" cy="440.6" rx="1.5" ry="1.1" fill="#666" stroke="#161616" stroke-width="0.96" transform="rotate(-15 196.7 440.6)"/>
<path d="M191.1,449.4 L200.1,456.2 Q204.2,456.2 203.1,452.2 L194.1,445.4Z" fill="#2e2e2e" stroke="#161616" stroke-width="0.96" stroke-linejoin="round" stroke-linecap="round"/>
<line x1="192.4" y1="449.7" x2="194.8" y2="446.5" stroke="#bbb" stroke-width="0.4"/>
<line x1="193.6" y1="450.7" x2="196.0" y2="447.5" stroke="#bbb" stroke-width="0.4"/>
<line x1="194.9" y1="451.6" x2="197.3" y2="448.5" stroke="#bbb" stroke-width="0.4"/>
<line x1="196.2" y1="452.6" x2="198.6" y2="449.4" stroke="#bbb" stroke-width="0.4"/>
<line x1="197.5" y1="453.6" x2="199.9" y2="450.4" stroke="#bbb" stroke-width="0.4"/>
<line x1="198.7" y1="454.5" x2="201.1" y2="451.4" stroke="#bbb" stroke-width="0.4"/>
<line x1="200.0" y1="455.5" x2="202.4" y2="452.3" stroke="#bbb" stroke-width="0.4"/>
<path d="M211.5,456.4 L221.3,462.6 Q224.7,462.3 223.5,459.0 L213.7,452.8Z" fill="#2e2e2e" stroke="#161616" stroke-width="0.96" stroke-linejoin="round" stroke-linecap="round"/>
<line x1="212.7" y1="456.7" x2="214.5" y2="453.8" stroke="#bbb" stroke-width="0.4"/>
<line x1="214.1" y1="457.5" x2="215.9" y2="454.7" stroke="#bbb" stroke-width="0.4"/>
<line x1="215.4" y1="458.4" x2="217.2" y2="455.5" stroke="#bbb" stroke-width="0.4"/>
<line x1="216.8" y1="459.2" x2="218.6" y2="456.4" stroke="#bbb" stroke-width="0.4"/>
<line x1="218.1" y1="460.1" x2="219.9" y2="457.2" stroke="#bbb" stroke-width="0.4"/>
<line x1="219.5" y1="460.9" x2="221.3" y2="458.1" stroke="#bbb" stroke-width="0.4"/>
<line x1="220.8" y1="461.8" x2="222.6" y2="459.0" stroke="#bbb" stroke-width="0.4"/>
<path d="M570.0,395.7 L568.6,402.9 L561.4,415.7 L547.1,437.1 L540.0,448.6 L535.7,453.6 L530.0,456.4 L520.0,457.1 L515.7,460.0 L511.4,462.9 L507.9,461.4 L506.4,457.1 L498.6,452.9 L488.6,449.3 L470.0,441.4 L470.0,414.3 L527.1,385.7Z" fill="#fff" stroke="#161616" stroke-width="1.10" stroke-linejoin="round" stroke-linecap="round"/>
<path d="M564.9,381.1 C564.7,381.9 563.3,384.4 563.7,385.7 C564.1,387.0 566.2,387.6 567.1,389.1 C568.1,390.7 569.2,393.0 569.4,394.9 C569.6,396.8 569.2,399.0 568.3,400.6 C567.3,402.1 565.0,402.7 563.7,404.0 C562.4,405.3 561.6,405.9 560.3,408.6 C559.0,411.2 556.5,418.1 555.7,420.0" fill="none" stroke="#161616" stroke-width="1.10" stroke-linejoin="round" stroke-linecap="round"/>
<path d="M560.3,385.7 C559.5,387.2 556.6,392.6 555.7,394.9 C554.9,397.1 556.1,396.8 555.1,399.4 C554.2,402.1 551.8,407.4 550.0,410.9 C548.2,414.3 545.2,418.5 544.3,420.0" fill="none" stroke="#161616" stroke-width="0.85" stroke-linejoin="round" stroke-linecap="round"/>
<ellipse cx="561.4" cy="397.7" rx="3.7" ry="2.9" fill="#fff" stroke="#161616" stroke-width="0.98" transform="rotate(-30 561.4 397.7)"/>
<ellipse cx="562.0" cy="385.7" rx="0.9" ry="1.0" fill="none" stroke="#161616" stroke-width="0.73"/>
<ellipse cx="551.7" cy="414.9" rx="0.9" ry="0.9" fill="none" stroke="#161616" stroke-width="0.73"/>
<ellipse cx="551.4" cy="414.3" rx="1.1" ry="1.1" fill="#fff" stroke="#161616" stroke-width="0.98" transform="rotate(-25 551.4 414.3)"/>
<ellipse cx="536.4" cy="436.4" rx="1.3" ry="1.3" fill="#fff" stroke="#161616" stroke-width="0.98" transform="rotate(-25 536.4 436.4)"/>
<ellipse cx="528.6" cy="450.0" rx="3.6" ry="2.9" fill="#fff" stroke="#161616" stroke-width="0.98" transform="rotate(-25 528.6 450.0)"/>
<ellipse cx="518.3" cy="454.0" rx="1.3" ry="1.3" fill="#fff" stroke="#161616" stroke-width="0.98" transform="rotate(-25 518.3 454.0)"/>
<ellipse cx="510.7" cy="458.9" rx="1.1" ry="1.1" fill="#fff" stroke="#161616" stroke-width="0.98" transform="rotate(-25 510.7 458.9)"/>
<path d="M555.7,400.0 C554.8,401.9 553.1,406.0 550.0,411.4 C546.9,416.9 540.5,427.6 537.1,432.9 C533.8,438.1 532.4,440.2 530.0,442.9 C527.6,445.5 525.7,447.3 522.9,448.6 C520.0,449.9 515.5,450.6 512.9,450.7 C510.2,450.8 508.1,449.5 507.1,449.3" fill="none" stroke="#161616" stroke-width="0.85" stroke-linejoin="round" stroke-linecap="round"/>
<polygon points="474.8,320.0 485.8,320.0 486.2,330.0 494.3,331.4 505.0,329.8 513.0,331.3 518.0,328.6 521.5,330.0 523.5,334.5 527.1,343.0 533.0,348.5 546.0,353.5 551.5,356.0 554.5,362.0 555.0,367.0 560.0,368.5 564.5,372.0 566.5,378.0 564.5,384.5 561.0,388.0 557.0,395.0 553.0,405.0 546.0,418.0 536.0,436.0 528.0,450.0 521.0,456.0 511.0,457.5 506.5,455.5 494.3,451.4 477.1,448.6 465.7,447.1 451.4,440.0 437.1,434.3 421.4,425.7 417.1,421.4 418.6,414.3 427.1,400.0 431.4,388.6 430.0,377.1 434.3,365.7 442.9,348.6 450.0,340.5 457.1,338.3 466.5,341.0 470.0,335.7 472.9,330.0 474.6,327.0" fill="#fff" stroke="#161616" stroke-width="1.22" stroke-linejoin="round"/>
<path d="M474.6,320.3 L474.6,328.6 Q480,330.6 487.1,328.6 L487.1,320.3Z" fill="#fff" stroke="#161616" stroke-width="1.22" stroke-linejoin="round" stroke-linecap="round"/>
<ellipse cx="480.9" cy="320.3" rx="6.1" ry="2.1" fill="#fff" stroke="#161616" stroke-width="1.22"/>
<ellipse cx="480.9" cy="320.5" rx="4.1" ry="1.1" fill="#777" stroke="#161616" stroke-width="0.98"/>
<path d="M472.3,328.9 L473.4,336.3 L476.3,339.9 L479.7,338.6 L488.3,332.6" fill="none" stroke="#161616" stroke-width="1.22" stroke-linejoin="round" stroke-linecap="round"/>
<path d="M472.3,328.9 L479.7,330.3 L487.1,330.0" fill="none" stroke="#161616" stroke-width="1.10" stroke-linejoin="round" stroke-linecap="round"/>
<path d="M479.7,330.6 L479.7,338.6" fill="none" stroke="#161616" stroke-width="1.10" stroke-linejoin="round" stroke-linecap="round"/>
<path d="M473.7,331.1 L474.8,338.0" fill="none" stroke="#161616" stroke-width="0.85" stroke-linejoin="round" stroke-linecap="round"/>
<ellipse cx="496.5" cy="332.3" rx="9.1" ry="3.1" fill="#fff" stroke="#161616" stroke-width="1.22" transform="rotate(8 496.5 332.3)"/>
<ellipse cx="496.5" cy="332.4" rx="6.3" ry="1.6" fill="#fff" stroke="#161616" stroke-width="1.10" transform="rotate(8 496.5 332.4)"/>
<path d="M466.6,344.3 C467.5,344.1 469.6,343.8 472.3,343.1 C475.0,342.5 479.9,341.7 482.6,340.3 C485.2,338.9 486.0,335.6 488.3,334.9 C490.6,334.2 493.6,335.5 496.3,335.9 C499.0,336.4 501.8,337.6 504.3,337.8 C506.8,338.0 509.5,337.7 511.4,337.2 C513.2,336.7 514.4,335.1 515.3,334.9 C516.2,334.7 517.0,335.1 516.7,336.1 C516.5,337.0 514.8,339.0 513.9,340.6 C512.9,342.2 512.1,343.8 511.0,345.8 C510.0,347.8 508.6,350.5 507.6,352.6 C506.6,354.7 506.0,356.4 504.7,358.3 C503.5,360.3 501.9,362.9 500.2,364.5 C498.5,366.1 496.3,366.9 494.6,367.9 C492.9,369.0 491.3,369.2 490.0,370.8 C488.7,372.4 487.3,374.5 486.6,377.7 C485.8,380.9 485.6,387.9 485.4,390.0" fill="none" stroke="#161616" stroke-width="1.16" stroke-linejoin="round" stroke-linecap="round"/>
<path d="M487.1,330.6 C488.7,330.3 493.4,328.8 496.3,328.9 C499.1,329.0 501.6,330.5 504.3,331.1 C507.0,331.8 510.0,333.1 512.3,332.9 C514.6,332.6 516.5,329.7 518.0,329.4 C519.5,329.1 520.7,330.3 521.4,331.1 C522.2,332.0 522.8,333.3 522.6,334.6 C522.4,335.8 521.4,337.0 520.3,338.6 C519.1,340.2 517.0,342.6 515.7,344.3 C514.5,346.0 513.8,347.1 512.9,348.9 C511.9,350.6 510.9,352.9 510.0,354.6 C509.1,356.3 508.9,357.2 507.7,359.1 C506.6,361.0 504.9,364.3 503.1,366.0 C501.4,367.7 499.2,368.4 497.4,369.4 C495.6,370.5 493.6,370.8 492.3,372.3 C491.0,373.8 490.1,375.6 489.4,378.6 C488.8,381.5 488.5,388.1 488.3,390.0" fill="none" stroke="#161616" stroke-width="1.28" stroke-linejoin="round" stroke-linecap="round"/>
<ellipse cx="514.8" cy="334.0" rx="0.8" ry="0.8" fill="none" stroke="#161616" stroke-width="0.85"/>
<path d="M521.4,331.1 C522.0,331.9 523.5,333.7 524.9,335.7 C526.2,337.7 527.9,341.0 529.4,343.1 C531.0,345.3 532.5,347.4 534.0,348.9 C535.5,350.3 537.8,351.2 538.6,351.7" fill="none" stroke="#161616" stroke-width="1.22" stroke-linejoin="round" stroke-linecap="round"/>
<path d="M520.3,338.6 C520.9,339.5 522.6,342.4 523.7,344.3 C524.9,346.2 525.8,348.3 527.1,350.0 C528.5,351.7 531.0,353.8 531.7,354.6" fill="none" stroke="#161616" stroke-width="0.98" stroke-linejoin="round" stroke-linecap="round"/>
<path d="M520.3,348.3 L527.1,342.2" fill="none" stroke="#161616" stroke-width="0.85" stroke-linejoin="round" stroke-linecap="round"/>
<path d="M521.4,349.9 L528.3,343.8" fill="none" stroke="#161616" stroke-width="0.85" stroke-linejoin="round" stroke-linecap="round"/>
<path d="M522.6,351.5 L529.4,345.4" fill="none" stroke="#161616" stroke-width="0.85" stroke-linejoin="round" stroke-linecap="round"/>
<path d="M523.7,353.1 L530.6,347.0" fill="none" stroke="#161616" stroke-width="0.85" stroke-linejoin="round" stroke-linecap="round"/>
<path d="M524.9,354.7 L531.7,348.6" fill="none" stroke="#161616" stroke-width="0.85" stroke-linejoin="round" stroke-linecap="round"/>
<path d="M526.0,356.3 L532.9,350.2" fill="none" stroke="#161616" stroke-width="0.85" stroke-linejoin="round" stroke-linecap="round"/>
<path d="M515.7,355.7 C516.3,356.3 517.8,358.4 519.1,359.1 C520.5,359.9 522.4,359.5 523.7,360.3 C525.0,361.0 526.6,363.1 527.1,363.7" fill="none" stroke="#161616" stroke-width="1.10" stroke-linejoin="round" stroke-linecap="round"/>
<path d="M513.4,360.3 C514.2,361.0 516.6,363.3 518.0,364.9 C519.4,366.4 521.3,368.7 522.0,369.4" fill="none" stroke="#161616" stroke-width="0.98" stroke-linejoin="round" stroke-linecap="round"/>
<path d="M507.7,369.4 C508.7,370.2 511.3,372.7 513.4,374.0 C515.5,375.3 518.6,377.0 520.3,377.4 C522.0,377.8 523.1,376.5 523.7,376.3" fill="none" stroke="#161616" stroke-width="1.10" stroke-linejoin="round" stroke-linecap="round"/>
<path d="M504.3,375.1 C505.2,376.1 507.7,379.5 510.0,380.9 C512.3,382.2 516.1,383.5 518.0,383.1 C519.9,382.8 520.3,380.1 521.4,378.6 C522.6,377.0 524.3,374.8 524.9,374.0" fill="none" stroke="#161616" stroke-width="1.10" stroke-linejoin="round" stroke-linecap="round"/>
<path d="M508.9,366.0 C510.0,367.0 513.4,370.4 515.7,371.7 C518.0,373.0 521.4,373.6 522.6,374.0" fill="none" stroke="#161616" stroke-width="0.73" stroke-linejoin="round" stroke-linecap="round"/>
<path d="M505.4,343.1 L507.7,351.1" fill="none" stroke="#161616" stroke-width="0.85" stroke-linejoin="round" stroke-linecap="round"/>
<path d="M508.9,340.9 L512.9,343.1" fill="none" stroke="#161616" stroke-width="0.85" stroke-linejoin="round" stroke-linecap="round"/>
<path d="M494.6,335.7 C495.1,337.9 497.5,345.9 498.0,348.9 C498.5,351.8 497.5,352.7 497.4,353.4" fill="none" stroke="#161616" stroke-width="0.85" stroke-linejoin="round" stroke-linecap="round"/>
<path d="M498.6,344.3 C499.5,344.9 502.8,347.5 504.3,347.7 C505.8,347.9 507.1,345.8 507.7,345.4" fill="none" stroke="#161616" stroke-width="0.98" stroke-linejoin="round" stroke-linecap="round"/>
<path d="M488.3,344.3 C489.0,344.5 491.3,344.7 492.9,345.4 C494.4,346.2 496.7,348.3 497.4,348.9" fill="none" stroke="#161616" stroke-width="0.98" stroke-linejoin="round" stroke-linecap="round"/>
<path d="M486.0,358.0 C487.1,357.6 490.9,356.7 492.9,355.7 C494.9,354.8 496.1,352.7 498.0,352.3 C499.9,351.9 503.2,353.2 504.3,353.4" fill="none" stroke="#161616" stroke-width="1.10" stroke-linejoin="round" stroke-linecap="round"/>
<path d="M490.6,363.7 C491.0,362.6 493.3,360.5 494.6,360.3 C495.8,360.1 497.7,361.4 498.0,362.6 C498.3,363.7 497.2,366.4 496.3,367.1 C495.3,367.9 493.2,367.7 492.3,367.1 C491.3,366.6 490.2,364.9 490.6,363.7Z" fill="none" stroke="#161616" stroke-width="1.10" stroke-linejoin="round" stroke-linecap="round"/>
<ellipse cx="494.6" cy="364.9" rx="1.3" ry="1.9" fill="none" stroke="#161616" stroke-width="0.85"/>
<path d="M483.7,371.7 C484.5,372.3 487.6,374.0 488.3,375.1 C489.0,376.3 487.8,378.0 487.7,378.6" fill="none" stroke="#161616" stroke-width="0.98" stroke-linejoin="round" stroke-linecap="round"/>
<ellipse cx="487.1" cy="375.7" rx="1.3" ry="1.4" fill="none" stroke="#161616" stroke-width="0.98"/>
<path d="M476.9,371.7 C477.6,371.0 480.1,367.5 481.4,367.1 C482.8,366.8 484.3,369.0 484.9,369.4" fill="none" stroke="#161616" stroke-width="0.98" stroke-linejoin="round" stroke-linecap="round"/>
<path d="M470.0,360.3 C470.8,359.9 473.0,358.0 474.6,358.0 C476.1,358.0 478.4,359.9 479.1,360.3" fill="none" stroke="#161616" stroke-width="0.98" stroke-linejoin="round" stroke-linecap="round"/>
<path d="M481.4,378.6 C480.9,379.3 478.2,381.6 478.0,383.1 C477.8,384.7 479.9,387.0 480.3,387.7" fill="none" stroke="#161616" stroke-width="1.10" stroke-linejoin="round" stroke-linecap="round"/>
<path d="M474.6,374.0 C474.2,374.8 472.3,376.9 472.3,378.6 C472.3,380.3 474.2,383.3 474.6,384.3" fill="none" stroke="#161616" stroke-width="1.10" stroke-linejoin="round" stroke-linecap="round"/>
<path d="M497.4,372.3 C497.8,373.3 498.6,376.8 499.7,378.6 C500.9,380.4 503.5,382.4 504.3,383.1" fill="none" stroke="#161616" stroke-width="0.98" stroke-linejoin="round" stroke-linecap="round"/>
<path d="M492.9,374.0 C493.4,375.1 495.3,378.4 496.3,380.9 C497.2,383.3 498.2,387.5 498.6,388.9" fill="none" stroke="#161616" stroke-width="0.98" stroke-linejoin="round" stroke-linecap="round"/>
<path d="M486.0,345.4 C486.5,345.8 488.5,346.6 488.9,347.7 C489.2,348.9 488.9,351.0 488.3,352.3 C487.7,353.5 485.9,354.7 485.4,355.1" fill="none" stroke="#161616" stroke-width="1.10" stroke-linejoin="round" stroke-linecap="round"/>
<ellipse cx="480.5" cy="350.0" rx="6.1" ry="6.1" fill="#fff" stroke="#161616" stroke-width="1.22"/>
<ellipse cx="480.5" cy="350.0" rx="4.6" ry="4.8" fill="none" stroke="#161616" stroke-width="0.73"/>
<ellipse cx="480.5" cy="350.0" rx="2.5" ry="2.7" fill="#fff" stroke="#161616" stroke-width="1.10"/>
<path d="M521.4,345.7 C523.0,346.3 527.9,348.0 530.6,349.1 C533.2,350.3 534.8,351.4 537.4,352.6 C540.1,353.7 545.0,355.4 546.6,356.0" fill="none" stroke="#161616" stroke-width="1.22" stroke-linejoin="round" stroke-linecap="round"/>
<path d="M530.6,340.0 C531.0,341.1 531.7,344.9 532.9,346.9 C534.0,348.9 536.7,351.1 537.4,352.0" fill="none" stroke="#161616" stroke-width="1.10" stroke-linejoin="round" stroke-linecap="round"/>
<path d="M520.9,373.1 C521.7,374.3 522.9,378.5 526.0,380.0 C529.1,381.5 536.7,382.5 539.7,382.3 C542.8,382.1 544.1,380.6 544.3,378.9 C544.5,377.1 541.4,373.1 540.9,372.0" fill="none" stroke="#161616" stroke-width="1.10" stroke-linejoin="round" stroke-linecap="round"/>
<path d="M527.1,374.3 C528.1,374.9 530.6,376.9 532.9,377.7 C535.1,378.6 539.5,379.1 540.9,379.4" fill="none" stroke="#161616" stroke-width="0.85" stroke-linejoin="round" stroke-linecap="round"/>
<path d="M510.0,373.1 C511.0,373.0 513.8,371.8 515.7,372.0 C517.6,372.2 520.5,373.9 521.4,374.3" fill="none" stroke="#161616" stroke-width="0.98" stroke-linejoin="round" stroke-linecap="round"/>
<path d="M510.0,378.9 C511.1,378.9 515.0,378.5 516.9,378.9 C518.8,379.2 520.9,380.2 521.4,381.1 C522.0,382.1 520.5,384.0 520.3,384.6" fill="none" stroke="#161616" stroke-width="1.10" stroke-linejoin="round" stroke-linecap="round"/>
<path d="M510.0,385.7 C511.0,385.3 514.0,383.6 515.7,383.4 C517.4,383.2 519.5,384.4 520.3,384.6" fill="none" stroke="#161616" stroke-width="0.98" stroke-linejoin="round" stroke-linecap="round"/>
<path d="M524.9,362.9 C525.6,361.5 527.5,360.9 529.4,360.6 C531.3,360.3 534.5,360.3 536.3,361.1 C538.1,362.0 539.8,363.9 540.3,365.7 C540.8,367.5 540.2,370.5 539.1,372.0 C538.1,373.5 535.8,374.6 534.0,374.9 C532.2,375.1 529.8,374.8 528.3,373.7 C526.8,372.7 525.4,370.4 524.9,368.6 C524.3,366.8 524.1,364.2 524.9,362.9Z" fill="#fff" stroke="#161616" stroke-width="1.22" stroke-linejoin="round" stroke-linecap="round"/>
<ellipse cx="532.3" cy="367.4" rx="5.1" ry="4.8" fill="none" stroke="#161616" stroke-width="0.85"/>
<ellipse cx="532.3" cy="367.4" rx="2.9" ry="2.9" fill="#fff" stroke="#161616" stroke-width="1.10"/>
<path d="M537.4,352.6 C538.6,353.0 542.2,354.2 544.3,354.9 C546.4,355.5 548.4,355.2 550.0,356.6 C551.6,357.9 553.5,360.7 554.0,362.9 C554.5,365.0 553.7,367.8 552.9,369.7 C552.0,371.6 550.1,373.5 548.9,374.3 C547.6,375.0 546.6,375.2 545.4,374.3 C544.3,373.3 542.4,370.7 542.0,368.6 C541.6,366.5 542.4,363.7 543.1,361.7 C543.9,359.7 546.0,357.4 546.6,356.6" fill="#fff" stroke="#161616" stroke-width="1.22" stroke-linejoin="round" stroke-linecap="round"/>
<ellipse cx="547.7" cy="364.6" rx="2.4" ry="3.4" fill="#fff" stroke="#161616" stroke-width="1.10" transform="rotate(20 547.7 364.6)"/>
<path d="M553.4,368.0 C554.6,368.2 558.2,367.9 560.3,369.1 C562.4,370.4 565.2,373.4 566.0,375.4 C566.8,377.4 565.8,379.6 564.9,381.1 C563.9,382.7 562.1,384.9 560.3,384.6 C558.5,384.3 555.7,380.8 554.0,379.4 C552.3,378.1 550.5,377.6 550.0,376.6 C549.5,375.5 550.2,374.5 551.1,373.1 C552.1,371.8 555.0,369.1 555.7,368.3" fill="#fff" stroke="#161616" stroke-width="1.22" stroke-linejoin="round" stroke-linecap="round"/>
<ellipse cx="559.7" cy="378.3" rx="2.4" ry="3.4" fill="#fff" stroke="#161616" stroke-width="1.10" transform="rotate(20 559.7 378.3)"/>
<ellipse cx="551.1" cy="376.0" rx="1.3" ry="1.5" fill="#666" stroke="#161616" stroke-width="1.10"/>
<path d="M448.3,341.4 C447.6,342.5 445.6,345.3 444.3,347.7 C443.0,350.1 441.9,353.0 440.3,355.7 C438.7,358.4 436.0,361.4 434.6,363.7 C433.1,366.0 432.1,367.4 431.7,369.4 C431.3,371.4 431.5,373.4 432.3,375.7 C433.0,378.0 435.0,380.8 436.3,383.1 C437.6,385.5 439.6,388.9 440.3,390.0" fill="none" stroke="#161616" stroke-width="1.59" stroke-linejoin="round" stroke-linecap="round"/>
<path d="M450.0,343.1 C449.3,344.2 447.3,347.0 446.0,349.4 C444.7,351.8 443.5,354.9 442.0,357.4 C440.5,360.0 438.2,362.7 436.9,364.9 C435.5,367.0 434.4,368.8 434.0,370.6 C433.6,372.4 433.9,373.9 434.6,375.7 C435.2,377.5 437.4,380.5 438.0,381.4" fill="none" stroke="#161616" stroke-width="1.10" stroke-linejoin="round" stroke-linecap="round"/>
<path d="M451.7,344.9 C451.1,345.9 449.5,348.9 448.3,351.1 C447.0,353.4 445.7,356.1 444.3,358.6 C442.9,361.0 440.5,364.8 439.7,366.0" fill="none" stroke="#161616" stroke-width="0.98" stroke-linejoin="round" stroke-linecap="round"/>
<path d="M443.1,347.7 L447.7,350.0" fill="none" stroke="#161616" stroke-width="0.98" stroke-linejoin="round" stroke-linecap="round"/>
<path d="M442.0,351.1 L446.6,354.0" fill="none" stroke="#161616" stroke-width="0.98" stroke-linejoin="round" stroke-linecap="round"/>
<path d="M440.3,355.1 L445.4,358.0" fill="none" stroke="#161616" stroke-width="0.98" stroke-linejoin="round" stroke-linecap="round"/>
<path d="M444.3,359.1 L448.9,362.6" fill="none" stroke="#161616" stroke-width="0.98" stroke-linejoin="round" stroke-linecap="round"/>
<path d="M445.7,348.9 L444.3,358.0" fill="none" stroke="#161616" stroke-width="0.98" stroke-linejoin="round" stroke-linecap="round"/>
<path d="M447.7,352.3 L446.3,360.3" fill="none" stroke="#161616" stroke-width="0.98" stroke-linejoin="round" stroke-linecap="round"/>
<path d="M438.6,359.1 L442.6,362.0" fill="none" stroke="#161616" stroke-width="0.98" stroke-linejoin="round" stroke-linecap="round"/>
<path d="M449.4,355.7 L447.7,363.7" fill="none" stroke="#161616" stroke-width="0.98" stroke-linejoin="round" stroke-linecap="round"/>
<path d="M448.3,341.4 C448.4,339.7 450.7,339.4 452.3,339.1 C453.9,338.9 456.1,339.3 458.0,339.9 C459.9,340.6 462.1,341.8 463.7,343.1 C465.3,344.5 467.1,346.6 467.7,348.3 C468.3,350.0 468.2,351.8 467.1,353.4 C466.1,355.1 463.1,357.3 461.4,358.2 C459.7,359.2 458.2,359.6 456.9,359.1 C455.5,358.7 454.1,357.3 453.2,355.7 C452.3,354.1 452.5,351.8 451.7,349.4 C450.9,347.0 448.2,343.1 448.3,341.4Z" fill="#fff" stroke="#161616" stroke-width="1.22" stroke-linejoin="round" stroke-linecap="round"/>
<ellipse cx="459.7" cy="350.6" rx="4.1" ry="5.3" fill="none" stroke="#161616" stroke-width="0.73" transform="rotate(-10 459.7 350.6)"/>
<ellipse cx="459.7" cy="350.6" rx="3.0" ry="4.1" fill="#fff" stroke="#161616" stroke-width="1.10" transform="rotate(-10 459.7 350.6)"/>
<path d="M467.7,348.9 C468.0,349.2 469.3,350.0 469.4,351.1 C469.5,352.3 469.2,354.2 468.3,355.7 C467.3,357.2 464.5,359.5 463.7,360.3" fill="none" stroke="#161616" stroke-width="0.98" stroke-linejoin="round" stroke-linecap="round"/>
<path d="M467.1,340.3 C467.9,339.6 470.9,337.5 471.7,336.3 C472.6,335.0 472.2,333.4 472.3,332.9" fill="none" stroke="#161616" stroke-width="1.10" stroke-linejoin="round" stroke-linecap="round"/>
<ellipse cx="468.9" cy="340.6" rx="0.5" ry="1.4" fill="none" stroke="#161616" stroke-width="0.85" transform="rotate(35 468.9 340.6)"/>
<path d="M463.7,343.1 L467.1,340.3" fill="none" stroke="#161616" stroke-width="0.98" stroke-linejoin="round" stroke-linecap="round"/>
<path d="M469.7,350.2 L473.1,355.9" fill="none" stroke="#161616" stroke-width="1.46" stroke-linejoin="round" stroke-linecap="round"/>
<path d="M471.3,349.8 L474.7,355.5" fill="none" stroke="#161616" stroke-width="1.46" stroke-linejoin="round" stroke-linecap="round"/>
<path d="M472.9,349.3 L476.3,355.0" fill="none" stroke="#161616" stroke-width="1.46" stroke-linejoin="round" stroke-linecap="round"/>
<path d="M474.5,348.9 L477.9,354.6" fill="none" stroke="#161616" stroke-width="1.46" stroke-linejoin="round" stroke-linecap="round"/>
<path d="M467.1,348.3 C467.7,348.0 469.4,347.2 470.6,346.6 C471.7,345.9 473.4,344.7 474.0,344.3" fill="none" stroke="#161616" stroke-width="0.98" stroke-linejoin="round" stroke-linecap="round"/>
<path d="M432.9,367.1 C432.9,368.5 432.0,372.9 432.9,375.1 C433.7,377.4 437.1,379.9 438.0,380.9" fill="none" stroke="#161616" stroke-width="1.10" stroke-linejoin="round" stroke-linecap="round"/>
<path d="M436.9,366.0 C438.0,364.7 441.1,363.7 443.1,363.7 C445.1,363.7 447.4,364.7 448.9,366.0 C450.3,367.3 451.3,369.6 451.7,371.7 C452.1,373.8 452.0,376.7 451.1,378.6 C450.3,380.5 448.3,382.4 446.6,383.1 C444.9,383.9 442.4,383.9 440.9,383.1 C439.3,382.4 438.2,380.5 437.4,378.6 C436.7,376.7 436.4,373.8 436.3,371.7 C436.2,369.6 435.7,367.3 436.9,366.0Z" fill="#fff" stroke="#161616" stroke-width="1.22" stroke-linejoin="round" stroke-linecap="round"/>
<ellipse cx="444.3" cy="374.6" rx="3.9" ry="5.0" fill="none" stroke="#161616" stroke-width="0.73" transform="rotate(-10 444.3 374.6)"/>
<ellipse cx="444.3" cy="374.6" rx="2.7" ry="3.9" fill="#fff" stroke="#161616" stroke-width="1.10" transform="rotate(-10 444.3 374.6)"/>
<ellipse cx="461.4" cy="372.3" rx="11.4" ry="11.4" fill="#fff" stroke="#161616" stroke-width="1.22"/>
<ellipse cx="462.0" cy="372.6" rx="10.1" ry="10.3" fill="none" stroke="#161616" stroke-width="0.85"/>
<ellipse cx="456.9" cy="372.3" rx="4.8" ry="7.8" fill="#fff" stroke="#161616" stroke-width="1.46" transform="rotate(-8 456.9 372.3)"/>
<ellipse cx="457.4" cy="372.3" rx="2.9" ry="5.1" fill="none" stroke="#161616" stroke-width="0.98" transform="rotate(-8 457.4 372.3)"/>
<ellipse cx="465.7" cy="368.5" rx="1.1" ry="1.3" fill="#fff" stroke="#161616" stroke-width="0.98"/>
<ellipse cx="459.1" cy="368.9" rx="0.7" ry="0.7" fill="#333" stroke="#161616" stroke-width="0.61"/>
<path d="M454.6,369.4 L462.6,378.6" fill="none" stroke="#161616" stroke-width="0.85" stroke-linejoin="round" stroke-linecap="round"/>
<path d="M474.0,360.3 C475.0,359.5 477.2,355.7 479.7,355.7 C482.2,355.7 487.3,359.5 488.9,360.3" fill="none" stroke="#161616" stroke-width="1.10" stroke-linejoin="round" stroke-linecap="round"/>
<path d="M475.1,357.4 C476.2,355.6 481.6,355.2 483.1,356.9 C484.7,358.5 485.3,365.3 484.3,367.1 C483.2,369.0 478.4,369.3 476.9,367.7 C475.3,366.1 474.1,359.2 475.1,357.4Z" fill="none" stroke="#161616" stroke-width="0.98" stroke-linejoin="round" stroke-linecap="round"/>
<ellipse cx="484.9" cy="369.4" rx="1.6" ry="2.1" fill="none" stroke="#161616" stroke-width="0.98"/>
<ellipse cx="486.0" cy="375.7" rx="1.4" ry="1.6" fill="none" stroke="#161616" stroke-width="0.98"/>
<path d="M474.0,378.6 C475.1,378.0 478.6,375.3 480.9,375.1 C483.1,375.0 486.6,377.0 487.7,377.4" fill="none" stroke="#161616" stroke-width="0.98" stroke-linejoin="round" stroke-linecap="round"/>
<path d="M478.6,383.1 C479.5,382.8 482.4,380.7 484.3,380.9 C486.2,381.0 489.0,383.7 490.0,384.3" fill="none" stroke="#161616" stroke-width="1.10" stroke-linejoin="round" stroke-linecap="round"/>
<path d="M484.0,359.6 C484.4,357.9 487.5,357.6 489.1,357.9 C490.8,358.1 493.1,359.8 493.7,361.3 C494.3,362.8 493.7,365.9 492.6,367.0 C491.4,368.1 488.3,369.4 486.9,368.1 C485.4,366.9 483.6,361.3 484.0,359.6Z" fill="none" stroke="#161616" stroke-width="1.22" stroke-linejoin="round" stroke-linecap="round"/>
<ellipse cx="494.3" cy="364.5" rx="2.3" ry="3.0" fill="none" stroke="#161616" stroke-width="1.46"/>
<path d="M474.3,372.7 C475.4,372.0 479.2,368.5 481.1,368.1 C483.0,367.8 485.0,370.0 485.7,370.4" fill="none" stroke="#161616" stroke-width="1.10" stroke-linejoin="round" stroke-linecap="round"/>
<ellipse cx="486.3" cy="375.0" rx="2.1" ry="2.3" fill="none" stroke="#161616" stroke-width="1.59"/>
<path d="M476.6,378.4 C477.9,378.8 480.8,381.7 482.3,383.0 C483.8,384.3 485.5,385.5 485.7,386.4 C485.9,387.4 484.8,388.9 483.4,388.7 C482.1,388.5 479.2,386.6 477.7,385.3 C476.2,384.0 474.5,381.9 474.3,380.7 C474.1,379.6 475.2,378.0 476.6,378.4Z" fill="none" stroke="#161616" stroke-width="1.59" stroke-linejoin="round" stroke-linecap="round"/>
<path d="M470.9,384.1 C472.0,385.1 476.2,388.0 477.7,389.9 C479.2,391.8 479.6,394.6 480.0,395.6" fill="none" stroke="#161616" stroke-width="1.10" stroke-linejoin="round" stroke-linecap="round"/>
<path d="M467.4,355.6 C468.6,356.3 471.8,358.6 474.3,360.1 C476.8,361.7 481.0,364.0 482.3,364.7" fill="none" stroke="#161616" stroke-width="1.10" stroke-linejoin="round" stroke-linecap="round"/>
<path d="M468.6,362.4 L475.4,368.1" fill="none" stroke="#161616" stroke-width="1.10" stroke-linejoin="round" stroke-linecap="round"/>
<path d="M488.0,352.1 C489.0,353.1 491.8,357.3 493.7,357.9 C495.6,358.4 497.7,357.1 499.4,355.6 C501.1,354.0 503.2,349.9 504.0,348.7" fill="none" stroke="#161616" stroke-width="1.10" stroke-linejoin="round" stroke-linecap="round"/>
<path d="M494.9,345.3 C496.0,344.7 499.4,342.2 501.7,341.9 C504.0,341.5 507.6,341.9 508.6,343.0 C509.5,344.1 508.2,347.2 507.4,348.7 C506.7,350.2 504.6,351.6 504.0,352.1" fill="none" stroke="#161616" stroke-width="1.10" stroke-linejoin="round" stroke-linecap="round"/>
<path d="M505.7,344.1 L506.3,349.9" fill="none" stroke="#161616" stroke-width="0.98" stroke-linejoin="round" stroke-linecap="round"/>
<path d="M501.7,380.7 C503.2,381.1 507.8,383.0 510.9,383.0 C513.9,383.0 518.5,381.1 520.0,380.7" fill="none" stroke="#161616" stroke-width="1.22" stroke-linejoin="round" stroke-linecap="round"/>
<path d="M499.4,385.3 C501.7,385.5 509.7,386.6 513.1,386.4 C516.6,386.2 518.9,384.5 520.0,384.1" fill="none" stroke="#161616" stroke-width="1.10" stroke-linejoin="round" stroke-linecap="round"/>
<path d="M497.7,377.3 L500.6,379.0" fill="none" stroke="#161616" stroke-width="2.44" stroke-linejoin="round" stroke-linecap="round"/>
<path d="M447.1,347.6 L448.9,352.1" fill="none" stroke="#161616" stroke-width="1.46" stroke-linejoin="round" stroke-linecap="round"/>
<path d="M448.1,348.3 L449.9,352.8" fill="none" stroke="#161616" stroke-width="1.46" stroke-linejoin="round" stroke-linecap="round"/>
<path d="M449.1,348.9 L451.0,353.5" fill="none" stroke="#161616" stroke-width="1.46" stroke-linejoin="round" stroke-linecap="round"/>
<path d="M450.2,349.6 L452.0,354.2" fill="none" stroke="#161616" stroke-width="1.46" stroke-linejoin="round" stroke-linecap="round"/>
<path d="M451.2,350.3 L453.0,354.9" fill="none" stroke="#161616" stroke-width="1.46" stroke-linejoin="round" stroke-linecap="round"/>
<path d="M471.1,351.0 L474.3,357.9" fill="none" stroke="#161616" stroke-width="1.59" stroke-linejoin="round" stroke-linecap="round"/>
<path d="M472.6,350.7 L475.8,357.5" fill="none" stroke="#161616" stroke-width="1.59" stroke-linejoin="round" stroke-linecap="round"/>
<path d="M474.1,350.3 L477.3,357.2" fill="none" stroke="#161616" stroke-width="1.59" stroke-linejoin="round" stroke-linecap="round"/>
<path d="M475.5,350.0 L478.7,356.8" fill="none" stroke="#161616" stroke-width="1.59" stroke-linejoin="round" stroke-linecap="round"/>
<path d="M444.6,357.9 C445.3,358.4 448.0,360.0 449.1,361.3 C450.3,362.6 451.0,365.1 451.4,365.9" fill="none" stroke="#161616" stroke-width="1.22" stroke-linejoin="round" stroke-linecap="round"/>
<path d="M442.3,354.4 L446.9,357.9" fill="none" stroke="#161616" stroke-width="1.22" stroke-linejoin="round" stroke-linecap="round"/>
<path d="M461.7,388.7 C462.7,389.3 465.3,391.8 467.4,392.1 C469.5,392.5 473.1,391.2 474.3,391.0" fill="none" stroke="#161616" stroke-width="1.22" stroke-linejoin="round" stroke-linecap="round"/>
<path d="M453.7,394.4 C454.5,393.7 456.8,390.8 458.3,389.9 C459.8,388.9 462.1,388.9 462.9,388.7" fill="none" stroke="#161616" stroke-width="1.22" stroke-linejoin="round" stroke-linecap="round"/>
<path d="M468.6,341.9 C469.5,342.4 473.5,344.0 474.3,345.3 C475.0,346.6 473.3,349.1 473.1,349.9" fill="none" stroke="#161616" stroke-width="1.22" stroke-linejoin="round" stroke-linecap="round"/>
<path d="M466.3,338.4 L470.9,340.7" fill="none" stroke="#161616" stroke-width="1.46" stroke-linejoin="round" stroke-linecap="round"/>
<path d="M432.9,386.9 C431.5,389.3 426.8,397.5 424.9,401.7 C423.0,405.9 422.6,409.0 421.4,412.0 C420.3,415.0 418.6,418.7 418.0,420.0" fill="none" stroke="#161616" stroke-width="1.22" stroke-linejoin="round" stroke-linecap="round"/>
<path d="M435.7,388.6 C434.5,390.9 430.1,398.5 428.3,402.3 C426.5,406.1 425.4,409.9 424.9,411.4" fill="none" stroke="#161616" stroke-width="0.98" stroke-linejoin="round" stroke-linecap="round"/>
<path d="M429.4,380.0 C430.6,381.1 433.8,384.6 436.3,386.9 C438.8,389.1 443.0,392.6 444.3,393.7" fill="none" stroke="#161616" stroke-width="1.34" stroke-linejoin="round" stroke-linecap="round"/>
<path d="M434.0,380.0 C435.1,381.0 438.6,383.7 440.9,385.7 C443.1,387.7 446.6,391.0 447.7,392.0" fill="none" stroke="#161616" stroke-width="1.10" stroke-linejoin="round" stroke-linecap="round"/>
<path d="M426.0,406.3 C428.1,407.4 433.8,412.0 438.6,413.1 C443.3,414.3 451.0,411.6 454.6,413.1 C458.2,414.7 458.6,420.8 460.3,422.3 C462.0,423.8 461.8,424.2 464.9,422.3 C467.9,420.4 474.4,415.4 478.6,410.9 C482.8,406.3 488.1,397.5 490.0,394.9" fill="none" stroke="#161616" stroke-width="1.34" stroke-linejoin="round" stroke-linecap="round"/>
<path d="M428.3,403.4 C430.2,404.5 435.0,408.9 439.7,409.9 C444.4,411.0 452.6,408.5 456.3,409.9 C460.0,411.4 460.7,417.4 462.0,418.9 C463.3,420.3 461.8,420.7 464.3,418.9 C466.8,417.0 473.0,412.4 476.9,408.0 C480.8,403.6 485.9,395.1 487.7,392.6" fill="none" stroke="#161616" stroke-width="1.22" stroke-linejoin="round" stroke-linecap="round"/>
<ellipse cx="462.0" cy="417.1" rx="0.7" ry="0.7" fill="none" stroke="#161616" stroke-width="0.73"/>
<ellipse cx="426.6" cy="407.4" rx="0.6" ry="0.9" fill="none" stroke="#161616" stroke-width="0.73"/>
<path d="M434.6,392.6 C436.4,391.9 441.7,394.6 442.6,396.6 C443.4,398.6 441.5,403.9 439.7,404.6 C437.9,405.2 432.6,402.6 431.7,400.6 C430.9,398.6 432.8,393.2 434.6,392.6Z" fill="none" stroke="#161616" stroke-width="0.98" stroke-linejoin="round" stroke-linecap="round"/>
<path d="M430.0,398.3 L437.4,402.3" fill="none" stroke="#161616" stroke-width="0.85" stroke-linejoin="round" stroke-linecap="round"/>
<path d="M442.0,397.1 C442.6,395.2 444.9,394.6 446.6,394.3 C448.3,394.0 450.9,394.4 452.3,395.4 C453.7,396.5 455.0,398.8 455.1,400.6 C455.3,402.4 454.6,405.0 453.4,406.3 C452.3,407.5 450.0,408.1 448.3,408.0 C446.6,407.9 444.2,407.5 443.1,405.7 C442.1,403.9 441.4,399.0 442.0,397.1Z" fill="#fff" stroke="#161616" stroke-width="1.22" stroke-linejoin="round" stroke-linecap="round"/>
<ellipse cx="447.7" cy="401.1" rx="4.3" ry="4.8" fill="none" stroke="#161616" stroke-width="0.73" transform="rotate(-10 447.7 401.1)"/>
<ellipse cx="447.7" cy="401.1" rx="2.5" ry="3.0" fill="#fff" stroke="#161616" stroke-width="1.10" transform="rotate(-10 447.7 401.1)"/>
<path d="M438.6,383.4 C439.7,385.0 444.5,390.5 445.4,392.6 C446.4,394.7 444.5,395.4 444.3,396.0" fill="none" stroke="#161616" stroke-width="1.10" stroke-linejoin="round" stroke-linecap="round"/>
<path d="M447.7,384.6 C448.3,385.7 449.4,389.9 451.1,391.4 C452.9,393.0 456.9,393.3 458.0,393.7" fill="none" stroke="#161616" stroke-width="0.98" stroke-linejoin="round" stroke-linecap="round"/>
<path d="M448.9,382.3 C450.4,382.9 455.5,385.5 458.0,385.7 C460.5,385.9 462.8,383.8 463.7,383.4" fill="none" stroke="#161616" stroke-width="1.10" stroke-linejoin="round" stroke-linecap="round"/>
<path d="M469.4,384.6 C470.2,385.5 472.1,389.7 474.0,390.3 C475.9,390.9 479.7,388.4 480.9,388.0" fill="none" stroke="#161616" stroke-width="0.98" stroke-linejoin="round" stroke-linecap="round"/>
<ellipse cx="464.3" cy="401.7" rx="8.7" ry="8.9" fill="#fff" stroke="#161616" stroke-width="1.22"/>
<ellipse cx="464.6" cy="402.1" rx="7.1" ry="7.3" fill="none" stroke="#161616" stroke-width="0.98"/>
<ellipse cx="462.3" cy="400.3" rx="3.0" ry="3.0" fill="#555" stroke="#161616" stroke-width="1.71"/>
<ellipse cx="462.0" cy="400.0" rx="1.3" ry="1.3" fill="#ddd" stroke="#161616" stroke-width="0.73"/>
<path d="M458.0,406.9 C458.9,407.4 461.2,409.8 463.1,409.9 C465.0,410.1 468.4,408.3 469.4,408.0" fill="none" stroke="#161616" stroke-width="1.22" stroke-linejoin="round" stroke-linecap="round"/>
<path d="M456.9,397.1 C457.6,396.5 459.5,394.0 461.4,393.5 C463.3,393.0 467.1,394.2 468.3,394.3" fill="none" stroke="#161616" stroke-width="1.10" stroke-linejoin="round" stroke-linecap="round"/>
<path d="M467.1,399.4 C467.9,399.8 471.1,400.6 471.7,401.7 C472.3,402.9 470.8,405.5 470.6,406.3" fill="none" stroke="#161616" stroke-width="1.10" stroke-linejoin="round" stroke-linecap="round"/>
<path d="M455.7,392.6 L457.4,394.9" fill="none" stroke="#161616" stroke-width="1.71" stroke-linejoin="round" stroke-linecap="round"/>
<path d="M462.6,389.7 L464.3,391.4" fill="none" stroke="#161616" stroke-width="1.71" stroke-linejoin="round" stroke-linecap="round"/>
<path d="M475.1,393.7 C476.1,394.5 480.1,396.2 480.9,398.3 C481.6,400.4 480.7,404.2 479.7,406.3 C478.8,408.4 475.9,410.1 475.1,410.9" fill="none" stroke="#161616" stroke-width="1.10" stroke-linejoin="round" stroke-linecap="round"/>
<path d="M478.6,391.4 C479.6,392.4 484.1,394.5 484.9,397.1 C485.6,399.8 483.4,405.7 483.1,407.4" fill="none" stroke="#161616" stroke-width="0.98" stroke-linejoin="round" stroke-linecap="round"/>
<path d="M474.0,417.7 C475.5,417.1 480.5,414.5 483.1,414.3 C485.8,414.1 488.9,416.2 490.0,416.6" fill="none" stroke="#161616" stroke-width="1.10" stroke-linejoin="round" stroke-linecap="round"/>
<path d="M476.3,420.0 C476.7,421.3 477.4,425.7 478.6,428.0 C479.7,430.3 482.4,432.8 483.1,433.7" fill="none" stroke="#161616" stroke-width="1.10" stroke-linejoin="round" stroke-linecap="round"/>
<path d="M479.7,418.9 L488.9,417.7" fill="none" stroke="#161616" stroke-width="0.85" stroke-linejoin="round" stroke-linecap="round"/>
<path d="M480.9,423.4 L490.0,425.7" fill="none" stroke="#161616" stroke-width="0.98" stroke-linejoin="round" stroke-linecap="round"/>
<path d="M418.0,420.0 C421.0,421.9 430.4,427.8 436.3,431.4 C442.2,435.0 448.3,439.0 453.4,441.7 C458.6,444.4 462.2,445.5 467.1,447.4 C472.1,449.3 480.5,452.2 483.1,453.1" fill="none" stroke="#161616" stroke-width="1.22" stroke-linejoin="round" stroke-linecap="round"/>
<path d="M419.7,424.0 L432.9,430.3" fill="none" stroke="#161616" stroke-width="0.98" stroke-linejoin="round" stroke-linecap="round"/>
<path d="M420.9,414.3 C422.5,415.0 426.7,417.0 430.6,418.9 C434.5,420.8 442.0,424.6 444.3,425.7" fill="none" stroke="#161616" stroke-width="1.10" stroke-linejoin="round" stroke-linecap="round"/>
<path d="M423.1,411.4 C423.3,410.7 424.5,409.9 425.4,409.9 C426.4,409.9 428.6,410.7 428.9,411.4 C429.1,412.2 427.9,413.8 427.1,414.3 C426.4,414.8 425.0,414.8 424.3,414.3 C423.6,413.8 423.0,412.2 423.1,411.4Z" fill="none" stroke="#161616" stroke-width="0.98" stroke-linejoin="round" stroke-linecap="round"/>
<path d="M424.9,409.7 C426.2,410.5 430.4,412.6 432.9,414.3 C435.3,416.0 438.6,419.0 439.7,420.0" fill="none" stroke="#161616" stroke-width="0.85" stroke-linejoin="round" stroke-linecap="round"/>
<path d="M437.4,424.0 C438.5,423.5 442.0,425.0 442.6,426.3 C443.1,427.5 441.9,431.0 440.9,431.4 C439.8,431.9 436.6,430.4 436.1,429.1 C435.5,427.9 436.3,424.5 437.4,424.0Z" fill="none" stroke="#161616" stroke-width="0.98" stroke-linejoin="round" stroke-linecap="round"/>
<path d="M438.6,425.5 L441.5,426.9" fill="none" stroke="#161616" stroke-width="0.85" stroke-linejoin="round" stroke-linecap="round"/>
<path d="M438.0,427.4 L440.9,428.8" fill="none" stroke="#161616" stroke-width="0.85" stroke-linejoin="round" stroke-linecap="round"/>
<ellipse cx="439.7" cy="432.6" rx="10.5" ry="3.4" fill="#fff" stroke="#161616" stroke-width="1.95" transform="rotate(30 439.7 432.6)"/>
<ellipse cx="440.3" cy="432.0" rx="8.2" ry="2.1" fill="none" stroke="#161616" stroke-width="0.98" transform="rotate(30 440.3 432.0)"/>
<path d="M447.7,420.0 C448.7,421.0 452.7,423.6 453.4,425.7 C454.2,427.8 452.5,431.4 452.3,432.6" fill="none" stroke="#161616" stroke-width="1.10" stroke-linejoin="round" stroke-linecap="round"/>
<path d="M450.0,417.7 C451.0,418.7 454.0,422.7 455.7,423.4 C457.4,424.2 459.5,422.5 460.3,422.3" fill="none" stroke="#161616" stroke-width="1.10" stroke-linejoin="round" stroke-linecap="round"/>
<ellipse cx="469.4" cy="441.7" rx="15.1" ry="5.1" fill="#fff" stroke="#161616" stroke-width="2.32" transform="rotate(25 469.4 441.7)"/>
<ellipse cx="470.1" cy="441.0" rx="12.8" ry="3.4" fill="none" stroke="#161616" stroke-width="1.10" transform="rotate(25 470.1 441.0)"/>
<ellipse cx="469.8" cy="441.4" rx="13.9" ry="4.3" fill="none" stroke="#161616" stroke-width="0.61" transform="rotate(25 469.8 441.4)"/>
<path d="M453.4,430.3 C454.2,429.7 456.3,427.2 458.0,426.9 C459.7,426.5 461.8,426.9 463.7,428.0 C465.6,429.1 468.5,432.8 469.4,433.7" fill="none" stroke="#161616" stroke-width="1.10" stroke-linejoin="round" stroke-linecap="round"/>
<path d="M455.7,433.7 C456.5,433.1 458.6,430.5 460.3,430.3 C462.0,430.1 465.0,432.2 466.0,432.6" fill="none" stroke="#161616" stroke-width="0.98" stroke-linejoin="round" stroke-linecap="round"/>
<path d="M474.0,428.0 C474.8,429.0 478.0,431.8 478.6,433.7 C479.1,435.6 477.6,438.5 477.4,439.4" fill="none" stroke="#161616" stroke-width="1.10" stroke-linejoin="round" stroke-linecap="round"/>
<ellipse cx="503.1" cy="392.8" rx="6.9" ry="3.0" fill="#fff" stroke="#161616" stroke-width="1.10" transform="rotate(-8 503.1 392.8)"/>
<ellipse cx="503.1" cy="394.2" rx="6.4" ry="2.7" fill="#fff" stroke="#161616" stroke-width="1.10" transform="rotate(-8 503.1 394.2)"/>
<ellipse cx="503.1" cy="395.5" rx="5.9" ry="2.5" fill="#fff" stroke="#161616" stroke-width="1.10" transform="rotate(-8 503.1 395.5)"/>
<ellipse cx="503.1" cy="396.9" rx="5.5" ry="2.3" fill="#fff" stroke="#161616" stroke-width="1.10" transform="rotate(-8 503.1 396.9)"/>
<ellipse cx="504.3" cy="397.4" rx="3.4" ry="1.9" fill="#fff" stroke="#161616" stroke-width="1.10" transform="rotate(-8 504.3 397.4)"/>
<ellipse cx="504.5" cy="397.6" rx="1.6" ry="0.9" fill="none" stroke="#161616" stroke-width="0.85" transform="rotate(-8 504.5 397.6)"/>
<path d="M496.9,394.9 L497.4,404.0" fill="none" stroke="#161616" stroke-width="1.10" stroke-linejoin="round" stroke-linecap="round"/>
<path d="M510.0,393.7 L509.4,398.9" fill="none" stroke="#161616" stroke-width="1.10" stroke-linejoin="round" stroke-linecap="round"/>
<path d="M507.7,402.9 C508.5,403.8 511.4,406.3 512.3,408.6 C513.1,410.9 512.8,415.2 512.9,416.6" fill="none" stroke="#161616" stroke-width="1.10" stroke-linejoin="round" stroke-linecap="round"/>
<path d="M504.3,404.0 C505.1,405.0 508.5,407.6 509.4,409.7 C510.4,411.8 509.9,415.4 510.0,416.6" fill="none" stroke="#161616" stroke-width="0.98" stroke-linejoin="round" stroke-linecap="round"/>
<path d="M513.4,418.9 C513.8,419.6 515.7,421.9 515.7,423.4 C515.7,425.0 513.8,427.2 513.4,428.0" fill="none" stroke="#161616" stroke-width="1.10" stroke-linejoin="round" stroke-linecap="round"/>
<path d="M484.9,402.9 L499.5,419.4" fill="none" stroke="#161616" stroke-width="0.85" stroke-linejoin="round" stroke-linecap="round"/>
<path d="M497.4,404.6 C497.0,405.4 495.3,408.1 494.6,409.7 C493.8,411.3 493.1,413.5 492.9,414.3" fill="none" stroke="#161616" stroke-width="1.10" stroke-linejoin="round" stroke-linecap="round"/>
<path d="M490.6,407.4 C490.2,408.6 488.5,412.6 488.3,414.3 C488.1,416.0 489.2,417.1 489.4,417.7" fill="none" stroke="#161616" stroke-width="0.98" stroke-linejoin="round" stroke-linecap="round"/>
<ellipse cx="499.5" cy="419.4" rx="6.9" ry="6.9" fill="#fff" stroke="#161616" stroke-width="1.22"/>
<ellipse cx="499.5" cy="419.4" rx="4.8" ry="4.8" fill="none" stroke="#161616" stroke-width="0.85"/>
<ellipse cx="499.5" cy="419.4" rx="2.5" ry="2.5" fill="#fff" stroke="#161616" stroke-width="1.10"/>
<ellipse cx="497.4" cy="407.4" rx="0.8" ry="0.8" fill="#555" stroke="#161616" stroke-width="0.98"/>
<ellipse cx="496.9" cy="429.1" rx="0.8" ry="0.8" fill="#555" stroke="#161616" stroke-width="0.98"/>
<path d="M470.0,425.7 C471.1,424.4 474.0,419.2 476.9,417.7 C479.7,416.2 484.5,416.2 487.1,416.6 C489.8,417.0 491.9,419.4 492.9,420.0" fill="none" stroke="#161616" stroke-width="1.10" stroke-linejoin="round" stroke-linecap="round"/>
<path d="M481.4,423.4 C482.6,422.9 486.4,419.6 488.3,420.0 C490.2,420.4 492.7,423.8 492.9,425.7 C493.0,427.6 491.3,430.1 489.4,431.4 C487.5,432.8 482.8,433.3 481.4,433.7" fill="none" stroke="#161616" stroke-width="1.10" stroke-linejoin="round" stroke-linecap="round"/>
<path d="M473.4,429.1 C474.4,428.6 477.8,425.5 479.1,425.7 C480.5,425.9 481.0,429.5 481.4,430.3" fill="none" stroke="#161616" stroke-width="0.98" stroke-linejoin="round" stroke-linecap="round"/>
<path d="M479.1,433.7 C482.7,433.2 492.6,436.9 496.3,437.1 C500.0,437.4 499.8,435.0 501.4,435.4 C503.0,435.8 505.1,437.7 506.0,439.4 C506.9,441.1 507.0,444.1 506.6,445.7 C506.1,447.3 505.4,448.7 503.1,449.1 C500.9,449.6 497.2,449.0 492.9,448.6 C488.5,448.1 479.8,447.7 476.9,446.3 C473.9,444.9 474.8,442.1 475.1,440.0 C475.5,437.9 475.6,434.2 479.1,433.7Z" fill="#fff" stroke="#161616" stroke-width="1.22" stroke-linejoin="round" stroke-linecap="round"/>
<ellipse cx="500.9" cy="442.3" rx="5.5" ry="6.9" fill="#fff" stroke="#161616" stroke-width="1.10" transform="rotate(20 500.9 442.3)"/>
<path d="M494.0,437.1 C493.8,438.0 492.6,440.5 492.9,442.3 C493.1,444.1 495.2,447.0 495.7,448.0" fill="none" stroke="#161616" stroke-width="0.85" stroke-linejoin="round" stroke-linecap="round"/>
<path d="M476.9,434.9 L478.6,445.7" fill="none" stroke="#161616" stroke-width="0.85" stroke-linejoin="round" stroke-linecap="round"/>
<path d="M470.0,439.4 C471.1,440.2 474.6,442.5 476.9,444.0 C479.1,445.5 483.0,447.2 483.7,448.6 C484.5,449.9 483.0,451.8 481.4,452.0 C479.9,452.2 476.5,450.5 474.6,449.7 C472.7,449.0 470.8,447.8 470.0,447.4" fill="none" stroke="#161616" stroke-width="1.22" stroke-linejoin="round" stroke-linecap="round"/>
<path d="M541.4,385.1 C539.8,388.1 534.7,397.4 531.7,402.9 C528.8,408.3 526.4,413.3 523.7,417.7 C521.0,422.1 518.2,426.3 515.7,429.1 C513.2,432.0 510.0,433.9 508.9,434.9" fill="none" stroke="#161616" stroke-width="1.28" stroke-linejoin="round" stroke-linecap="round"/>
<path d="M543.1,386.3 C541.5,389.3 536.4,399.0 533.4,404.6 C530.5,410.1 528.1,415.0 525.4,419.4 C522.8,423.8 520.0,428.1 517.4,430.9 C514.9,433.7 511.2,435.3 510.0,436.2" fill="none" stroke="#161616" stroke-width="0.98" stroke-linejoin="round" stroke-linecap="round"/>
<path d="M545.4,388.0 C543.7,391.0 538.2,400.8 535.1,406.3 C532.1,411.8 529.8,416.8 527.1,421.1 C524.5,425.5 521.8,429.8 519.1,432.6 C516.5,435.3 512.5,436.9 511.1,437.7" fill="none" stroke="#161616" stroke-width="1.28" stroke-linejoin="round" stroke-linecap="round"/>
<path d="M547.1,389.7 C545.5,392.7 540.5,401.9 537.4,407.4 C534.4,413.0 531.5,418.4 528.9,422.9 C526.2,427.3 524.3,431.4 521.4,434.3 C518.6,437.1 513.3,439.0 511.7,440.0" fill="none" stroke="#161616" stroke-width="0.98" stroke-linejoin="round" stroke-linecap="round"/>
<path d="M548.9,391.4 C547.2,394.5 542.1,404.2 539.1,409.7 C536.2,415.2 533.8,420.2 531.1,424.6 C528.5,429.0 526.3,433.0 523.1,436.0 C520.0,439.0 514.1,441.2 512.3,442.3" fill="none" stroke="#161616" stroke-width="1.28" stroke-linejoin="round" stroke-linecap="round"/>
<path d="M550.6,394.3 C549.0,397.1 544.4,406.0 541.4,411.4 C538.5,416.9 535.6,422.4 532.9,426.9 C530.1,431.3 528.0,435.4 524.9,438.3 C521.7,441.1 515.8,443.0 514.0,444.0" fill="none" stroke="#161616" stroke-width="0.98" stroke-linejoin="round" stroke-linecap="round"/>
<path d="M551.7,398.3 C550.3,401.0 546.0,409.1 543.1,414.3 C540.3,419.4 537.2,425.0 534.6,429.1 C531.9,433.3 530.3,436.7 527.1,439.4 C524.0,442.2 518.8,444.3 515.7,445.7 C512.7,447.1 510.0,447.3 508.9,447.7" fill="none" stroke="#161616" stroke-width="1.28" stroke-linejoin="round" stroke-linecap="round"/>
<path d="M539.9,384.6 C538.3,387.4 533.2,396.4 530.2,401.7 C527.3,407.0 524.8,412.1 522.2,416.3 C519.6,420.6 517.0,424.6 514.6,427.4 C512.2,430.2 508.9,432.2 507.7,433.1" fill="none" stroke="#161616" stroke-width="0.98" stroke-linejoin="round" stroke-linecap="round"/>
<path d="M508.9,434.9 C510.4,434.1 515.9,431.2 518.0,430.3 C520.1,429.3 520.9,429.3 521.4,429.1" fill="none" stroke="#161616" stroke-width="1.95" stroke-linejoin="round" stroke-linecap="round"/>
<path d="M510.0,444.0 C511.9,443.6 518.2,442.9 521.4,441.7 C524.7,440.6 528.1,437.9 529.4,437.1" fill="none" stroke="#161616" stroke-width="2.20" stroke-linejoin="round" stroke-linecap="round"/>
<path d="M509.4,439.4 C511.0,438.9 516.6,437.0 519.1,436.0 C521.7,435.0 523.9,433.6 524.9,433.1" fill="none" stroke="#161616" stroke-width="1.59" stroke-linejoin="round" stroke-linecap="round"/>
<path d="M507.7,433.1 C507.5,434.2 506.4,437.0 506.6,439.4 C506.8,441.8 508.5,446.3 508.9,447.7" fill="none" stroke="#161616" stroke-width="1.10" stroke-linejoin="round" stroke-linecap="round"/>
<path d="M539.9,384.6 C540.7,384.8 542.8,385.1 544.3,385.9 C545.8,386.8 547.5,388.4 548.9,389.7 C550.2,391.0 551.7,393.0 552.3,393.7" fill="none" stroke="#161616" stroke-width="1.22" stroke-linejoin="round" stroke-linecap="round"/>
<ellipse cx="541.4" cy="416.6" rx="2.5" ry="2.7" fill="#fff" stroke="#161616" stroke-width="1.22"/>
<ellipse cx="540.9" cy="416.1" rx="1.4" ry="1.5" fill="none" stroke="#161616" stroke-width="0.85"/>
<path d="M538.3,414.9 L543.1,413.4" fill="none" stroke="#161616" stroke-width="0.98" stroke-linejoin="round" stroke-linecap="round"/>
<path d="M539.1,419.4 L544.3,418.3" fill="none" stroke="#161616" stroke-width="0.98" stroke-linejoin="round" stroke-linecap="round"/>
<path d="M540.9,385.1 C541.4,385.2 543.1,385.2 544.3,385.7 C545.4,386.2 546.8,387.2 547.7,388.0 C548.7,388.8 549.0,389.3 550.0,390.3 C551.0,391.2 552.6,392.7 553.4,393.7 C554.2,394.7 554.6,395.8 554.8,396.2" fill="none" stroke="#161616" stroke-width="1.22" stroke-linejoin="round" stroke-linecap="round"/>
<ellipse cx="544.6" cy="385.9" rx="1.0" ry="0.7" fill="#444" stroke="#161616" stroke-width="0.73" transform="rotate(30 544.6 385.9)"/>
<ellipse cx="550.8" cy="391.7" rx="1.0" ry="0.7" fill="#444" stroke="#161616" stroke-width="0.73" transform="rotate(30 550.8 391.7)"/>
<path d="M470.0,434.3 C472.4,435.7 479.5,440.2 484.3,442.9 C489.0,445.5 493.8,448.1 498.6,450.0 C503.3,451.9 507.6,453.2 512.9,454.3 C518.1,455.4 527.1,456.1 530.0,456.4" fill="none" stroke="#161616" stroke-width="0.98" stroke-linejoin="round" stroke-linecap="round"/>
<text transform="translate(77.0,185.1) scale(0.68,1)" text-anchor="middle" font-size="11.4" class="lb">1</text>
<text transform="translate(117.5,200.1) scale(0.68,1)" text-anchor="middle" font-size="11.4" class="lb">5</text>
<text transform="translate(190.0,190.1) scale(0.68,1)" text-anchor="middle" font-size="11.4" class="lb">28</text>
<text transform="translate(181.9,220.5) scale(0.68,1)" text-anchor="middle" font-size="11.4" class="lb">3</text>
<text transform="translate(197.9,275.4) scale(0.68,1)" text-anchor="middle" font-size="11.4" class="lb">4</text>
<text transform="translate(250.0,248.6) scale(0.68,1)" text-anchor="middle" font-size="11.4" class="lb">1</text>
<text transform="translate(336.2,148.6) scale(0.68,1)" text-anchor="middle" font-size="11.4" class="lb">11</text>
<text transform="translate(262.0,184.1) scale(0.68,1)" text-anchor="middle" font-size="11.4" class="lb">12</text>
<text transform="translate(295.5,202.8) scale(0.68,1)" text-anchor="middle" font-size="11.4" class="lb">11</text>
<text transform="translate(275.0,256.1) scale(0.68,1)" text-anchor="middle" font-size="11.4" class="lb">12</text>
<text transform="translate(349.4,135.1) scale(0.68,1)" text-anchor="middle" font-size="11.4" class="lb">6</text>
<text transform="translate(355.6,147.7) scale(0.68,1)" text-anchor="middle" font-size="11.4" class="lb">7</text>
<text transform="translate(362.4,161.7) scale(0.68,1)" text-anchor="middle" font-size="11.4" class="lb">8</text>
<text transform="translate(381.0,191.1) scale(0.68,1)" text-anchor="middle" font-size="11.4" class="lb">9</text>
<text transform="translate(391.0,203.7) scale(0.68,1)" text-anchor="middle" font-size="11.4" class="lb">10</text>
<text transform="translate(433.4,157.1) scale(0.68,1)" text-anchor="middle" font-size="11.4" class="lb">6</text>
<text transform="translate(439.0,169.7) scale(0.68,1)" text-anchor="middle" font-size="11.4" class="lb">7</text>
<text transform="translate(446.0,184.1) scale(0.68,1)" text-anchor="middle" font-size="11.4" class="lb">8</text>
<text transform="translate(459.0,210.1) scale(0.68,1)" text-anchor="middle" font-size="11.4" class="lb">9</text>
<text transform="translate(467.0,224.1) scale(0.68,1)" text-anchor="middle" font-size="11.4" class="lb">10</text>
<text transform="translate(550.3,142.1) scale(0.68,1)" text-anchor="middle" font-size="11.4" class="lb">20</text>
<text transform="translate(548.0,157.5) scale(0.68,1)" text-anchor="middle" font-size="11.4" class="lb">25</text>
<text transform="translate(481.3,157.5) scale(0.68,1)" text-anchor="middle" font-size="11.4" class="lb">21</text>
<text transform="translate(559.0,171.1) scale(0.68,1)" text-anchor="middle" font-size="11.4" class="lb">21</text>
<text transform="translate(555.7,194.1) scale(0.68,1)" text-anchor="middle" font-size="11.4" class="lb">22</text>
<text transform="translate(540.2,229.1) scale(0.68,1)" text-anchor="middle" font-size="11.4" class="lb">23</text>
<text transform="translate(538.0,244.4) scale(0.68,1)" text-anchor="middle" font-size="11.4" class="lb">24</text>
<text transform="translate(595.0,232.9) scale(0.68,1)" text-anchor="middle" font-size="11.4" class="lb">26</text>
<text transform="translate(638.6,305.8) scale(0.68,1)" text-anchor="middle" font-size="11.4" class="lb">27</text>
<text transform="translate(204.3,312.1) scale(0.68,1)" text-anchor="middle" font-size="11.4" class="lb">6</text>
<text transform="translate(224.3,319.8) scale(0.68,1)" text-anchor="middle" font-size="11.4" class="lb">7</text>
<text transform="translate(249.0,331.1) scale(0.68,1)" text-anchor="middle" font-size="11.4" class="lb">8</text>
<text transform="translate(305.7,357.0) scale(0.68,1)" text-anchor="middle" font-size="11.4" class="lb">9</text>
<text transform="translate(330.0,366.1) scale(0.68,1)" text-anchor="middle" font-size="11.4" class="lb">10</text>
<text transform="translate(207.7,357.0) scale(0.68,1)" text-anchor="middle" font-size="11.4" class="lb">6</text>
<text transform="translate(227.0,366.1) scale(0.68,1)" text-anchor="middle" font-size="11.4" class="lb">7</text>
<text transform="translate(252.9,376.4) scale(0.68,1)" text-anchor="middle" font-size="11.4" class="lb">8</text>
<text transform="translate(313.4,403.1) scale(0.68,1)" text-anchor="middle" font-size="11.4" class="lb">9</text>
<text transform="translate(334.3,411.1) scale(0.68,1)" text-anchor="middle" font-size="11.4" class="lb">10</text>
<text transform="translate(112.7,422.8) scale(0.68,1)" text-anchor="middle" font-size="11.4" class="lb">1</text>
<text transform="translate(112.7,476.0) scale(0.68,1)" text-anchor="middle" font-size="11.4" class="lb">2</text>
<text transform="translate(170.0,458.4) scale(0.68,1)" text-anchor="middle" font-size="11.4" class="lb">3</text>
<text transform="translate(205.0,474.5) scale(0.68,1)" text-anchor="middle" font-size="11.4" class="lb">4</text>
<text transform="translate(283.4,496.6) scale(0.68,1)" text-anchor="middle" font-size="11.4" class="lb">5</text>
<text transform="translate(315.0,503.4) scale(0.68,1)" text-anchor="middle" font-size="11.4" class="lb">1</text>
<text transform="translate(357.0,540.5) scale(0.68,1)" text-anchor="middle" font-size="11.4" class="lb">13</text>
<text transform="translate(447.0,553.4) scale(0.68,1)" text-anchor="middle" font-size="11.4" class="lb">13</text>
<text transform="translate(382.0,499.4) scale(0.68,1)" text-anchor="middle" font-size="11.4" class="lb">14</text>
<text transform="translate(472.0,514.1) scale(0.68,1)" text-anchor="middle" font-size="11.4" class="lb">14</text>
<text transform="translate(487.0,491.1) scale(0.68,1)" text-anchor="middle" font-size="11.4" class="lb">15</text>
<text transform="translate(495.8,477.1) scale(0.68,1)" text-anchor="middle" font-size="11.4" class="lb">16</text>
<text transform="translate(521.8,485.1) scale(0.68,1)" text-anchor="middle" font-size="11.4" class="lb">17</text>
<text transform="translate(549.8,495.4) scale(0.68,1)" text-anchor="middle" font-size="11.4" class="lb">18</text>
<text transform="translate(585.7,402.8) scale(0.68,1)" text-anchor="middle" font-size="11.4" class="lb">19</text>
</svg></body></html>
